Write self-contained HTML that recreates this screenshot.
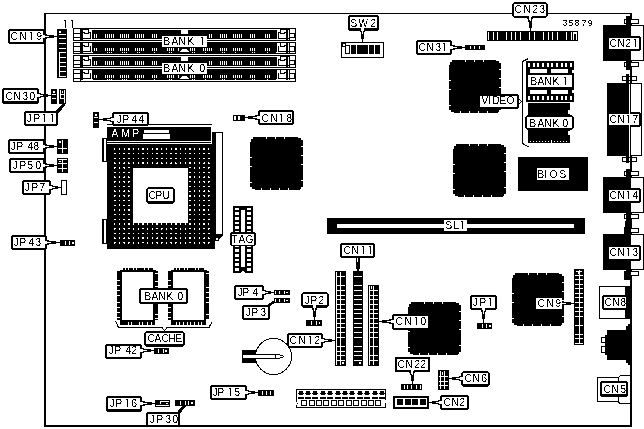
<!DOCTYPE html>
<html><head><meta charset="utf-8"><title>Motherboard layout 35879</title>
<style>
html,body{margin:0;padding:0;background:#fff;}
body{width:644px;height:429px;overflow:hidden;}
svg{display:block;font-family:"Liberation Sans",Arial,sans-serif;font-size:10px;}
svg rect,svg path,svg line,svg circle,svg polygon{shape-rendering:crispEdges;}
svg .aa{shape-rendering:geometricPrecision;}
</style></head>
<body>
<svg width="644" height="429" viewBox="0 0 644 429">
<defs><filter id="t" x="0" y="0" width="644" height="429" filterUnits="userSpaceOnUse"><feComponentTransfer><feFuncA type="discrete" tableValues="0 1"/></feComponentTransfer></filter></defs>
<rect x="0" y="0" width="644" height="429" fill="#fff"/>
<rect x="44" y="13" width="588" height="1" fill="#000"/>
<rect x="44" y="13" width="2" height="414" fill="#000"/>
<rect x="630" y="13" width="2" height="414" fill="#000"/>
<rect x="44" y="425" width="588" height="2" fill="#000"/>
<rect x="57" y="29" width="10" height="49" fill="#000"/>
<rect x="59" y="31" width="2" height="2" fill="#fff"/>
<rect x="59" y="34" width="7" height="1" fill="#fff"/>
<rect x="59" y="38" width="7" height="1" fill="#fff"/>
<rect x="59" y="43" width="7" height="1" fill="#fff"/>
<rect x="59" y="48" width="7" height="1" fill="#fff"/>
<rect x="59" y="52" width="7" height="1" fill="#fff"/>
<rect x="59" y="57" width="7" height="1" fill="#fff"/>
<rect x="59" y="62" width="7" height="1" fill="#fff"/>
<rect x="59" y="66" width="7" height="1" fill="#fff"/>
<rect x="59" y="71" width="7" height="1" fill="#fff"/>
<rect x="59" y="76" width="7" height="1" fill="#fff"/>
<rect x="59" y="52" width="1" height="25" fill="#fff"/>
<rect x="73" y="28" width="223" height="13" fill="#000"/>
<rect x="89" y="29" width="191" height="1" fill="#fff"/>
<rect x="83" y="39" width="203" height="1" fill="#fff"/>
<rect x="91" y="29" width="1" height="11" fill="#fff"/>
<rect x="277" y="29" width="1" height="11" fill="#fff"/>
<rect x="89" y="29" width="3" height="3" fill="#fff"/>
<rect x="277" y="29" width="3" height="3" fill="#fff"/>
<rect x="83" y="30" width="5" height="2" fill="#fff"/>
<rect x="85" y="32" width="3" height="1" fill="#fff"/>
<rect x="83" y="33" width="1" height="1" fill="#fff"/>
<rect x="89" y="33" width="1" height="1" fill="#fff"/>
<rect x="83" y="34" width="7" height="4" fill="#fff"/>
<rect x="281" y="30" width="5" height="2" fill="#fff"/>
<rect x="281" y="32" width="3" height="1" fill="#fff"/>
<rect x="285" y="33" width="1" height="1" fill="#fff"/>
<rect x="279" y="33" width="1" height="1" fill="#fff"/>
<rect x="279" y="34" width="7" height="4" fill="#fff"/>
<rect x="74" y="29" width="6" height="4" fill="#fff"/>
<rect x="74" y="34" width="6" height="3" fill="#fff"/>
<rect x="74" y="38" width="6" height="2" fill="#fff"/>
<rect x="288" y="30" width="1" height="8" fill="#fff"/>
<rect x="288" y="39" width="1" height="1" fill="#fff"/>
<rect x="290" y="29" width="5" height="4" fill="#fff"/>
<rect x="290" y="34" width="4" height="3" fill="#fff"/>
<rect x="290" y="38" width="5" height="2" fill="#fff"/>
<rect x="94" y="34" width="1" height="4" fill="#fff"/>
<rect x="96" y="34" width="1" height="4" fill="#fff"/>
<rect x="105" y="34" width="1" height="4" fill="#fff"/>
<rect x="107" y="34" width="1" height="4" fill="#fff"/>
<rect x="109" y="34" width="1" height="4" fill="#fff"/>
<rect x="111" y="34" width="1" height="4" fill="#fff"/>
<rect x="113" y="34" width="1" height="4" fill="#fff"/>
<rect x="120" y="34" width="1" height="4" fill="#fff"/>
<rect x="122" y="34" width="1" height="4" fill="#fff"/>
<rect x="124" y="34" width="1" height="4" fill="#fff"/>
<rect x="126" y="34" width="1" height="4" fill="#fff"/>
<rect x="128" y="34" width="1" height="4" fill="#fff"/>
<rect x="135" y="34" width="1" height="4" fill="#fff"/>
<rect x="137" y="34" width="1" height="4" fill="#fff"/>
<rect x="139" y="34" width="1" height="4" fill="#fff"/>
<rect x="141" y="34" width="1" height="4" fill="#fff"/>
<rect x="143" y="34" width="1" height="4" fill="#fff"/>
<rect x="152" y="34" width="1" height="4" fill="#fff"/>
<rect x="154" y="34" width="1" height="4" fill="#fff"/>
<rect x="156" y="34" width="1" height="4" fill="#fff"/>
<rect x="209" y="34" width="1" height="4" fill="#fff"/>
<rect x="211" y="34" width="1" height="4" fill="#fff"/>
<rect x="220" y="34" width="1" height="4" fill="#fff"/>
<rect x="222" y="34" width="1" height="4" fill="#fff"/>
<rect x="224" y="34" width="1" height="4" fill="#fff"/>
<rect x="226" y="34" width="1" height="4" fill="#fff"/>
<rect x="233" y="34" width="1" height="4" fill="#fff"/>
<rect x="235" y="34" width="1" height="4" fill="#fff"/>
<rect x="237" y="34" width="1" height="4" fill="#fff"/>
<rect x="239" y="34" width="1" height="4" fill="#fff"/>
<rect x="241" y="34" width="1" height="4" fill="#fff"/>
<rect x="250" y="34" width="1" height="4" fill="#fff"/>
<rect x="252" y="34" width="1" height="4" fill="#fff"/>
<rect x="254" y="34" width="1" height="4" fill="#fff"/>
<rect x="265" y="34" width="1" height="4" fill="#fff"/>
<rect x="267" y="34" width="1" height="4" fill="#fff"/>
<rect x="269" y="34" width="1" height="4" fill="#fff"/>
<rect x="181" y="29" width="7" height="5" fill="#fff"/>
<rect x="73" y="55" width="223" height="13" fill="#000"/>
<rect x="89" y="56" width="191" height="1" fill="#fff"/>
<rect x="83" y="66" width="203" height="1" fill="#fff"/>
<rect x="91" y="56" width="1" height="11" fill="#fff"/>
<rect x="277" y="56" width="1" height="11" fill="#fff"/>
<rect x="89" y="56" width="3" height="3" fill="#fff"/>
<rect x="277" y="56" width="3" height="3" fill="#fff"/>
<rect x="83" y="57" width="5" height="2" fill="#fff"/>
<rect x="85" y="59" width="3" height="1" fill="#fff"/>
<rect x="83" y="60" width="1" height="1" fill="#fff"/>
<rect x="89" y="60" width="1" height="1" fill="#fff"/>
<rect x="83" y="61" width="7" height="4" fill="#fff"/>
<rect x="281" y="57" width="5" height="2" fill="#fff"/>
<rect x="281" y="59" width="3" height="1" fill="#fff"/>
<rect x="285" y="60" width="1" height="1" fill="#fff"/>
<rect x="279" y="60" width="1" height="1" fill="#fff"/>
<rect x="279" y="61" width="7" height="4" fill="#fff"/>
<rect x="74" y="56" width="6" height="4" fill="#fff"/>
<rect x="74" y="61" width="6" height="3" fill="#fff"/>
<rect x="74" y="65" width="6" height="2" fill="#fff"/>
<rect x="288" y="57" width="1" height="8" fill="#fff"/>
<rect x="288" y="66" width="1" height="1" fill="#fff"/>
<rect x="290" y="56" width="5" height="4" fill="#fff"/>
<rect x="290" y="61" width="4" height="3" fill="#fff"/>
<rect x="290" y="65" width="5" height="2" fill="#fff"/>
<rect x="94" y="61" width="1" height="4" fill="#fff"/>
<rect x="96" y="61" width="1" height="4" fill="#fff"/>
<rect x="105" y="61" width="1" height="4" fill="#fff"/>
<rect x="107" y="61" width="1" height="4" fill="#fff"/>
<rect x="109" y="61" width="1" height="4" fill="#fff"/>
<rect x="111" y="61" width="1" height="4" fill="#fff"/>
<rect x="113" y="61" width="1" height="4" fill="#fff"/>
<rect x="120" y="61" width="1" height="4" fill="#fff"/>
<rect x="122" y="61" width="1" height="4" fill="#fff"/>
<rect x="124" y="61" width="1" height="4" fill="#fff"/>
<rect x="126" y="61" width="1" height="4" fill="#fff"/>
<rect x="128" y="61" width="1" height="4" fill="#fff"/>
<rect x="135" y="61" width="1" height="4" fill="#fff"/>
<rect x="137" y="61" width="1" height="4" fill="#fff"/>
<rect x="139" y="61" width="1" height="4" fill="#fff"/>
<rect x="141" y="61" width="1" height="4" fill="#fff"/>
<rect x="143" y="61" width="1" height="4" fill="#fff"/>
<rect x="152" y="61" width="1" height="4" fill="#fff"/>
<rect x="154" y="61" width="1" height="4" fill="#fff"/>
<rect x="156" y="61" width="1" height="4" fill="#fff"/>
<rect x="209" y="61" width="1" height="4" fill="#fff"/>
<rect x="211" y="61" width="1" height="4" fill="#fff"/>
<rect x="220" y="61" width="1" height="4" fill="#fff"/>
<rect x="222" y="61" width="1" height="4" fill="#fff"/>
<rect x="224" y="61" width="1" height="4" fill="#fff"/>
<rect x="226" y="61" width="1" height="4" fill="#fff"/>
<rect x="233" y="61" width="1" height="4" fill="#fff"/>
<rect x="235" y="61" width="1" height="4" fill="#fff"/>
<rect x="237" y="61" width="1" height="4" fill="#fff"/>
<rect x="239" y="61" width="1" height="4" fill="#fff"/>
<rect x="241" y="61" width="1" height="4" fill="#fff"/>
<rect x="250" y="61" width="1" height="4" fill="#fff"/>
<rect x="252" y="61" width="1" height="4" fill="#fff"/>
<rect x="254" y="61" width="1" height="4" fill="#fff"/>
<rect x="265" y="61" width="1" height="4" fill="#fff"/>
<rect x="267" y="61" width="1" height="4" fill="#fff"/>
<rect x="269" y="61" width="1" height="4" fill="#fff"/>
<rect x="181" y="56" width="7" height="5" fill="#fff"/>
<rect x="73" y="42" width="223" height="12" fill="#000"/>
<rect x="74" y="43" width="6" height="3" fill="#fff"/>
<rect x="74" y="47" width="6" height="4" fill="#fff"/>
<rect x="74" y="52" width="6" height="1" fill="#fff"/>
<rect x="89" y="43" width="3" height="3" fill="#fff"/>
<rect x="277" y="43" width="3" height="3" fill="#fff"/>
<rect x="91" y="43" width="1" height="9" fill="#fff"/>
<rect x="277" y="43" width="1" height="9" fill="#fff"/>
<rect x="83" y="43" width="5" height="2" fill="#fff"/>
<rect x="85" y="45" width="3" height="1" fill="#fff"/>
<rect x="83" y="46" width="1" height="1" fill="#fff"/>
<rect x="89" y="46" width="1" height="1" fill="#fff"/>
<rect x="83" y="47" width="7" height="4" fill="#fff"/>
<rect x="281" y="43" width="5" height="2" fill="#fff"/>
<rect x="281" y="45" width="3" height="1" fill="#fff"/>
<rect x="285" y="46" width="1" height="1" fill="#fff"/>
<rect x="279" y="46" width="1" height="1" fill="#fff"/>
<rect x="279" y="47" width="7" height="4" fill="#fff"/>
<rect x="83" y="52" width="10" height="1" fill="#fff"/>
<rect x="276" y="52" width="10" height="1" fill="#fff"/>
<rect x="288" y="43" width="1" height="8" fill="#fff"/>
<rect x="288" y="52" width="1" height="1" fill="#fff"/>
<rect x="290" y="43" width="5" height="3" fill="#fff"/>
<rect x="290" y="47" width="4" height="4" fill="#fff"/>
<rect x="290" y="52" width="5" height="1" fill="#fff"/>
<rect x="94" y="48" width="1" height="3" fill="#fff"/>
<rect x="96" y="48" width="1" height="3" fill="#fff"/>
<rect x="105" y="48" width="1" height="3" fill="#fff"/>
<rect x="107" y="48" width="1" height="3" fill="#fff"/>
<rect x="109" y="48" width="1" height="3" fill="#fff"/>
<rect x="111" y="48" width="1" height="3" fill="#fff"/>
<rect x="113" y="48" width="1" height="3" fill="#fff"/>
<rect x="120" y="48" width="1" height="3" fill="#fff"/>
<rect x="122" y="48" width="1" height="3" fill="#fff"/>
<rect x="124" y="48" width="1" height="3" fill="#fff"/>
<rect x="126" y="48" width="1" height="3" fill="#fff"/>
<rect x="128" y="48" width="1" height="3" fill="#fff"/>
<rect x="135" y="48" width="1" height="3" fill="#fff"/>
<rect x="137" y="48" width="1" height="3" fill="#fff"/>
<rect x="139" y="48" width="1" height="3" fill="#fff"/>
<rect x="141" y="48" width="1" height="3" fill="#fff"/>
<rect x="143" y="48" width="1" height="3" fill="#fff"/>
<rect x="152" y="48" width="1" height="3" fill="#fff"/>
<rect x="154" y="48" width="1" height="3" fill="#fff"/>
<rect x="156" y="48" width="1" height="3" fill="#fff"/>
<rect x="209" y="48" width="1" height="3" fill="#fff"/>
<rect x="211" y="48" width="1" height="3" fill="#fff"/>
<rect x="220" y="48" width="1" height="3" fill="#fff"/>
<rect x="222" y="48" width="1" height="3" fill="#fff"/>
<rect x="224" y="48" width="1" height="3" fill="#fff"/>
<rect x="226" y="48" width="1" height="3" fill="#fff"/>
<rect x="233" y="48" width="1" height="3" fill="#fff"/>
<rect x="235" y="48" width="1" height="3" fill="#fff"/>
<rect x="237" y="48" width="1" height="3" fill="#fff"/>
<rect x="239" y="48" width="1" height="3" fill="#fff"/>
<rect x="241" y="48" width="1" height="3" fill="#fff"/>
<rect x="250" y="48" width="1" height="3" fill="#fff"/>
<rect x="252" y="48" width="1" height="3" fill="#fff"/>
<rect x="254" y="48" width="1" height="3" fill="#fff"/>
<rect x="265" y="48" width="1" height="3" fill="#fff"/>
<rect x="267" y="48" width="1" height="3" fill="#fff"/>
<rect x="269" y="48" width="1" height="3" fill="#fff"/>
<rect x="167" y="48" width="1" height="3" fill="#fff"/>
<rect x="169" y="48" width="1" height="3" fill="#fff"/>
<rect x="171" y="48" width="1" height="3" fill="#fff"/>
<rect x="173" y="48" width="1" height="3" fill="#fff"/>
<rect x="178" y="48" width="1" height="3" fill="#fff"/>
<rect x="190" y="48" width="1" height="3" fill="#fff"/>
<rect x="192" y="48" width="1" height="3" fill="#fff"/>
<rect x="194" y="48" width="1" height="3" fill="#fff"/>
<rect x="203" y="48" width="1" height="3" fill="#fff"/>
<rect x="205" y="48" width="1" height="3" fill="#fff"/>
<rect x="207" y="48" width="1" height="3" fill="#fff"/>
<rect x="107" y="52" width="1" height="1" fill="#fff"/>
<rect x="109" y="52" width="1" height="1" fill="#fff"/>
<rect x="111" y="52" width="1" height="1" fill="#fff"/>
<rect x="122" y="52" width="1" height="1" fill="#fff"/>
<rect x="124" y="52" width="1" height="1" fill="#fff"/>
<rect x="126" y="52" width="1" height="1" fill="#fff"/>
<rect x="137" y="52" width="1" height="1" fill="#fff"/>
<rect x="139" y="52" width="1" height="1" fill="#fff"/>
<rect x="154" y="52" width="1" height="1" fill="#fff"/>
<rect x="169" y="52" width="1" height="1" fill="#fff"/>
<rect x="171" y="52" width="1" height="1" fill="#fff"/>
<rect x="192" y="52" width="1" height="1" fill="#fff"/>
<rect x="194" y="52" width="1" height="1" fill="#fff"/>
<rect x="205" y="52" width="1" height="1" fill="#fff"/>
<rect x="222" y="52" width="1" height="1" fill="#fff"/>
<rect x="224" y="52" width="1" height="1" fill="#fff"/>
<rect x="235" y="52" width="1" height="1" fill="#fff"/>
<rect x="252" y="52" width="1" height="1" fill="#fff"/>
<rect x="254" y="52" width="1" height="1" fill="#fff"/>
<rect x="267" y="52" width="1" height="1" fill="#fff"/>
<path d="M180 52H189L187 49H182Z" fill="#fff"/>
<rect x="73" y="69" width="223" height="13" fill="#000"/>
<rect x="74" y="70" width="6" height="3" fill="#fff"/>
<rect x="74" y="74" width="6" height="4" fill="#fff"/>
<rect x="74" y="79" width="6" height="2" fill="#fff"/>
<rect x="89" y="70" width="3" height="3" fill="#fff"/>
<rect x="277" y="70" width="3" height="3" fill="#fff"/>
<rect x="91" y="70" width="1" height="9" fill="#fff"/>
<rect x="277" y="70" width="1" height="9" fill="#fff"/>
<rect x="83" y="70" width="5" height="2" fill="#fff"/>
<rect x="85" y="72" width="3" height="1" fill="#fff"/>
<rect x="83" y="73" width="1" height="1" fill="#fff"/>
<rect x="89" y="73" width="1" height="1" fill="#fff"/>
<rect x="83" y="74" width="7" height="4" fill="#fff"/>
<rect x="281" y="70" width="5" height="2" fill="#fff"/>
<rect x="281" y="72" width="3" height="1" fill="#fff"/>
<rect x="285" y="73" width="1" height="1" fill="#fff"/>
<rect x="279" y="73" width="1" height="1" fill="#fff"/>
<rect x="279" y="74" width="7" height="4" fill="#fff"/>
<rect x="83" y="79" width="10" height="1" fill="#fff"/>
<rect x="276" y="79" width="10" height="1" fill="#fff"/>
<rect x="288" y="70" width="1" height="8" fill="#fff"/>
<rect x="288" y="79" width="1" height="1" fill="#fff"/>
<rect x="290" y="70" width="5" height="3" fill="#fff"/>
<rect x="290" y="74" width="4" height="4" fill="#fff"/>
<rect x="290" y="79" width="5" height="2" fill="#fff"/>
<rect x="81" y="80" width="214" height="1" fill="#fff"/>
<rect x="94" y="75" width="1" height="3" fill="#fff"/>
<rect x="96" y="75" width="1" height="3" fill="#fff"/>
<rect x="105" y="75" width="1" height="3" fill="#fff"/>
<rect x="107" y="75" width="1" height="3" fill="#fff"/>
<rect x="109" y="75" width="1" height="3" fill="#fff"/>
<rect x="111" y="75" width="1" height="3" fill="#fff"/>
<rect x="113" y="75" width="1" height="3" fill="#fff"/>
<rect x="120" y="75" width="1" height="3" fill="#fff"/>
<rect x="122" y="75" width="1" height="3" fill="#fff"/>
<rect x="124" y="75" width="1" height="3" fill="#fff"/>
<rect x="126" y="75" width="1" height="3" fill="#fff"/>
<rect x="128" y="75" width="1" height="3" fill="#fff"/>
<rect x="135" y="75" width="1" height="3" fill="#fff"/>
<rect x="137" y="75" width="1" height="3" fill="#fff"/>
<rect x="139" y="75" width="1" height="3" fill="#fff"/>
<rect x="141" y="75" width="1" height="3" fill="#fff"/>
<rect x="143" y="75" width="1" height="3" fill="#fff"/>
<rect x="152" y="75" width="1" height="3" fill="#fff"/>
<rect x="154" y="75" width="1" height="3" fill="#fff"/>
<rect x="156" y="75" width="1" height="3" fill="#fff"/>
<rect x="209" y="75" width="1" height="3" fill="#fff"/>
<rect x="211" y="75" width="1" height="3" fill="#fff"/>
<rect x="220" y="75" width="1" height="3" fill="#fff"/>
<rect x="222" y="75" width="1" height="3" fill="#fff"/>
<rect x="224" y="75" width="1" height="3" fill="#fff"/>
<rect x="226" y="75" width="1" height="3" fill="#fff"/>
<rect x="233" y="75" width="1" height="3" fill="#fff"/>
<rect x="235" y="75" width="1" height="3" fill="#fff"/>
<rect x="237" y="75" width="1" height="3" fill="#fff"/>
<rect x="239" y="75" width="1" height="3" fill="#fff"/>
<rect x="241" y="75" width="1" height="3" fill="#fff"/>
<rect x="250" y="75" width="1" height="3" fill="#fff"/>
<rect x="252" y="75" width="1" height="3" fill="#fff"/>
<rect x="254" y="75" width="1" height="3" fill="#fff"/>
<rect x="265" y="75" width="1" height="3" fill="#fff"/>
<rect x="267" y="75" width="1" height="3" fill="#fff"/>
<rect x="269" y="75" width="1" height="3" fill="#fff"/>
<rect x="167" y="75" width="1" height="3" fill="#fff"/>
<rect x="169" y="75" width="1" height="3" fill="#fff"/>
<rect x="171" y="75" width="1" height="3" fill="#fff"/>
<rect x="173" y="75" width="1" height="3" fill="#fff"/>
<rect x="178" y="75" width="1" height="3" fill="#fff"/>
<rect x="190" y="75" width="1" height="3" fill="#fff"/>
<rect x="192" y="75" width="1" height="3" fill="#fff"/>
<rect x="194" y="75" width="1" height="3" fill="#fff"/>
<rect x="203" y="75" width="1" height="3" fill="#fff"/>
<rect x="205" y="75" width="1" height="3" fill="#fff"/>
<rect x="207" y="75" width="1" height="3" fill="#fff"/>
<rect x="107" y="79" width="1" height="1" fill="#fff"/>
<rect x="109" y="79" width="1" height="1" fill="#fff"/>
<rect x="111" y="79" width="1" height="1" fill="#fff"/>
<rect x="122" y="79" width="1" height="1" fill="#fff"/>
<rect x="124" y="79" width="1" height="1" fill="#fff"/>
<rect x="126" y="79" width="1" height="1" fill="#fff"/>
<rect x="137" y="79" width="1" height="1" fill="#fff"/>
<rect x="139" y="79" width="1" height="1" fill="#fff"/>
<rect x="154" y="79" width="1" height="1" fill="#fff"/>
<rect x="169" y="79" width="1" height="1" fill="#fff"/>
<rect x="171" y="79" width="1" height="1" fill="#fff"/>
<rect x="192" y="79" width="1" height="1" fill="#fff"/>
<rect x="194" y="79" width="1" height="1" fill="#fff"/>
<rect x="205" y="79" width="1" height="1" fill="#fff"/>
<rect x="222" y="79" width="1" height="1" fill="#fff"/>
<rect x="224" y="79" width="1" height="1" fill="#fff"/>
<rect x="235" y="79" width="1" height="1" fill="#fff"/>
<rect x="252" y="79" width="1" height="1" fill="#fff"/>
<rect x="254" y="79" width="1" height="1" fill="#fff"/>
<rect x="267" y="79" width="1" height="1" fill="#fff"/>
<path d="M180 79H189L187 76H182Z" fill="#fff"/>
<rect x="162" y="36" width="45" height="11" fill="#fff"/>
<rect x="162" y="63" width="45" height="11" fill="#fff"/>
<path d="M253 137H298V138H301V140H303V187H301V189H300V190H255V189H252V187H250V142H251V139H253Z" fill="#000"/>
<rect x="266" y="137" width="1" height="2" fill="#fff"/>
<rect x="275" y="137" width="1" height="2" fill="#fff"/>
<rect x="284" y="137" width="1" height="2" fill="#fff"/>
<rect x="261" y="188" width="1" height="2" fill="#fff"/>
<rect x="270" y="188" width="1" height="2" fill="#fff"/>
<rect x="279" y="188" width="1" height="2" fill="#fff"/>
<rect x="288" y="188" width="1" height="2" fill="#fff"/>
<rect x="250" y="157" width="2" height="1" fill="#fff"/>
<rect x="250" y="166" width="2" height="1" fill="#fff"/>
<rect x="250" y="182" width="2" height="1" fill="#fff"/>
<rect x="301" y="146" width="2" height="1" fill="#fff"/>
<rect x="301" y="155" width="2" height="1" fill="#fff"/>
<rect x="301" y="164" width="2" height="1" fill="#fff"/>
<rect x="301" y="180" width="2" height="1" fill="#fff"/>
<path d="M452 60H496V61H499V63H501V110H499V112H498V113H454V112H451V110H449V65H450V62H452Z" fill="#000"/>
<rect x="465" y="60" width="1" height="2" fill="#fff"/>
<rect x="474" y="60" width="1" height="2" fill="#fff"/>
<rect x="483" y="60" width="1" height="2" fill="#fff"/>
<rect x="460" y="111" width="1" height="2" fill="#fff"/>
<rect x="469" y="111" width="1" height="2" fill="#fff"/>
<rect x="478" y="111" width="1" height="2" fill="#fff"/>
<rect x="487" y="111" width="1" height="2" fill="#fff"/>
<rect x="449" y="80" width="2" height="1" fill="#fff"/>
<rect x="449" y="89" width="2" height="1" fill="#fff"/>
<rect x="449" y="105" width="2" height="1" fill="#fff"/>
<rect x="499" y="69" width="2" height="1" fill="#fff"/>
<rect x="499" y="78" width="2" height="1" fill="#fff"/>
<rect x="499" y="87" width="2" height="1" fill="#fff"/>
<rect x="499" y="103" width="2" height="1" fill="#fff"/>
<path d="M456 144H501V145H504V147H506V194H504V196H503V197H458V196H455V194H453V149H454V146H456Z" fill="#000"/>
<rect x="469" y="144" width="1" height="2" fill="#fff"/>
<rect x="478" y="144" width="1" height="2" fill="#fff"/>
<rect x="487" y="144" width="1" height="2" fill="#fff"/>
<rect x="464" y="195" width="1" height="2" fill="#fff"/>
<rect x="473" y="195" width="1" height="2" fill="#fff"/>
<rect x="482" y="195" width="1" height="2" fill="#fff"/>
<rect x="491" y="195" width="1" height="2" fill="#fff"/>
<rect x="453" y="164" width="2" height="1" fill="#fff"/>
<rect x="453" y="173" width="2" height="1" fill="#fff"/>
<rect x="453" y="189" width="2" height="1" fill="#fff"/>
<rect x="504" y="153" width="2" height="1" fill="#fff"/>
<rect x="504" y="162" width="2" height="1" fill="#fff"/>
<rect x="504" y="171" width="2" height="1" fill="#fff"/>
<rect x="504" y="187" width="2" height="1" fill="#fff"/>
<path d="M411 302H456V303H459V305H461V352H459V354H458V355H413V354H410V352H408V307H409V304H411Z" fill="#000"/>
<rect x="424" y="302" width="1" height="2" fill="#fff"/>
<rect x="433" y="302" width="1" height="2" fill="#fff"/>
<rect x="442" y="302" width="1" height="2" fill="#fff"/>
<rect x="419" y="353" width="1" height="2" fill="#fff"/>
<rect x="428" y="353" width="1" height="2" fill="#fff"/>
<rect x="437" y="353" width="1" height="2" fill="#fff"/>
<rect x="446" y="353" width="1" height="2" fill="#fff"/>
<rect x="408" y="322" width="2" height="1" fill="#fff"/>
<rect x="408" y="331" width="2" height="1" fill="#fff"/>
<rect x="408" y="347" width="2" height="1" fill="#fff"/>
<rect x="459" y="311" width="2" height="1" fill="#fff"/>
<rect x="459" y="320" width="2" height="1" fill="#fff"/>
<rect x="459" y="329" width="2" height="1" fill="#fff"/>
<rect x="459" y="345" width="2" height="1" fill="#fff"/>
<path d="M515 273H559V274H562V276H564V323H562V325H561V326H517V325H514V323H512V278H513V275H515Z" fill="#000"/>
<rect x="528" y="273" width="1" height="2" fill="#fff"/>
<rect x="537" y="273" width="1" height="2" fill="#fff"/>
<rect x="546" y="273" width="1" height="2" fill="#fff"/>
<rect x="523" y="324" width="1" height="2" fill="#fff"/>
<rect x="532" y="324" width="1" height="2" fill="#fff"/>
<rect x="541" y="324" width="1" height="2" fill="#fff"/>
<rect x="550" y="324" width="1" height="2" fill="#fff"/>
<rect x="512" y="293" width="2" height="1" fill="#fff"/>
<rect x="512" y="302" width="2" height="1" fill="#fff"/>
<rect x="512" y="318" width="2" height="1" fill="#fff"/>
<rect x="562" y="282" width="2" height="1" fill="#fff"/>
<rect x="562" y="291" width="2" height="1" fill="#fff"/>
<rect x="562" y="300" width="2" height="1" fill="#fff"/>
<rect x="562" y="316" width="2" height="1" fill="#fff"/>
<rect x="518" y="157" width="70" height="34" fill="#000"/>
<rect x="537" y="168" width="32" height="12" fill="#fff"/>
<rect x="327" y="218" width="258" height="16" fill="#000"/>
<rect x="337" y="224" width="237" height="4" fill="#fff"/>
<rect x="444" y="220" width="23" height="11" fill="#fff"/>
<rect x="107" y="124" width="105" height="1" fill="#000"/>
<rect x="107" y="127" width="104" height="16" fill="#000"/>
<rect x="107" y="144" width="108" height="105" fill="#000"/>
<rect x="212" y="132" width="4" height="104" fill="#000"/>
<rect x="215" y="132" width="8" height="104" fill="#000"/>
<rect x="216" y="133" width="6" height="101" fill="#fff"/>
<path d="M215 236H222V237H221V238H220V239H219V241H215Z" fill="#000"/>
<rect x="216" y="238" width="2" height="2" fill="#fff"/>
<rect x="144" y="130" width="25" height="3" fill="#fff"/>
<rect x="143" y="134" width="27" height="5" fill="#fff"/>
<rect x="107" y="141" width="104" height="1" fill="#fff"/>
<rect x="102" y="138" width="5" height="24" fill="#000"/>
<rect x="104" y="139" width="2" height="22" fill="#fff"/>
<rect x="102" y="219" width="5" height="25" fill="#000"/>
<rect x="104" y="220" width="2" height="23" fill="#fff"/>
<path d="M114 148h1v1h-1zM114 149h1v1h-1zM114 153h1v1h-1zM115 153h1v1h-1zM114 158h1v1h-1zM115 158h1v1h-1zM114 162h1v1h-1zM114 163h1v1h-1zM115 163h1v1h-1zM114 167h1v1h-1zM114 168h1v1h-1zM115 167h1v1h-1zM114 172h1v1h-1zM115 172h1v1h-1zM114 176h1v1h-1zM114 177h1v1h-1zM115 177h1v1h-1zM114 181h1v1h-1zM114 182h1v1h-1zM115 181h1v1h-1zM114 186h1v1h-1zM115 186h1v1h-1zM114 190h1v1h-1zM114 191h1v1h-1zM115 191h1v1h-1zM114 195h1v1h-1zM114 196h1v1h-1zM115 195h1v1h-1zM114 200h1v1h-1zM115 200h1v1h-1zM114 205h1v1h-1zM115 205h1v1h-1zM114 209h1v1h-1zM114 210h1v1h-1zM114 214h1v1h-1zM115 214h1v1h-1zM114 219h1v1h-1zM115 219h1v1h-1zM114 223h1v1h-1zM114 224h1v1h-1zM114 228h1v1h-1zM114 229h1v1h-1zM115 228h1v1h-1zM114 233h1v1h-1zM115 233h1v1h-1zM114 237h1v1h-1zM114 238h1v1h-1zM115 238h1v1h-1zM114 242h1v1h-1zM114 243h1v1h-1zM115 242h1v1h-1zM119 148h1v1h-1zM119 149h1v1h-1zM119 153h1v1h-1zM119 158h1v1h-1zM119 162h1v1h-1zM119 163h1v1h-1zM119 167h1v1h-1zM119 168h1v1h-1zM119 172h1v1h-1zM119 176h1v1h-1zM119 177h1v1h-1zM119 181h1v1h-1zM119 182h1v1h-1zM119 186h1v1h-1zM119 190h1v1h-1zM119 191h1v1h-1zM119 195h1v1h-1zM119 196h1v1h-1zM119 200h1v1h-1zM119 204h1v1h-1zM119 205h1v1h-1zM119 209h1v1h-1zM119 210h1v1h-1zM119 214h1v1h-1zM119 219h1v1h-1zM119 223h1v1h-1zM119 224h1v1h-1zM119 228h1v1h-1zM119 229h1v1h-1zM119 233h1v1h-1zM119 237h1v1h-1zM119 238h1v1h-1zM119 242h1v1h-1zM119 243h1v1h-1zM124 148h1v1h-1zM124 149h1v1h-1zM123 153h1v1h-1zM124 153h1v1h-1zM123 158h1v1h-1zM124 158h1v1h-1zM123 163h1v1h-1zM124 162h1v1h-1zM124 163h1v1h-1zM123 167h1v1h-1zM124 167h1v1h-1zM124 168h1v1h-1zM123 172h1v1h-1zM124 172h1v1h-1zM123 177h1v1h-1zM124 176h1v1h-1zM124 177h1v1h-1zM123 181h1v1h-1zM124 181h1v1h-1zM124 182h1v1h-1zM123 186h1v1h-1zM124 186h1v1h-1zM123 191h1v1h-1zM124 190h1v1h-1zM124 191h1v1h-1zM123 195h1v1h-1zM124 195h1v1h-1zM124 196h1v1h-1zM123 200h1v1h-1zM124 200h1v1h-1zM123 205h1v1h-1zM124 205h1v1h-1zM124 209h1v1h-1zM124 210h1v1h-1zM123 214h1v1h-1zM124 214h1v1h-1zM123 219h1v1h-1zM124 219h1v1h-1zM124 223h1v1h-1zM124 224h1v1h-1zM123 228h1v1h-1zM124 228h1v1h-1zM124 229h1v1h-1zM123 233h1v1h-1zM124 233h1v1h-1zM123 238h1v1h-1zM124 237h1v1h-1zM124 238h1v1h-1zM123 242h1v1h-1zM124 242h1v1h-1zM124 243h1v1h-1zM128 148h1v1h-1zM128 149h1v1h-1zM129 148h1v1h-1zM129 149h1v1h-1zM128 153h1v1h-1zM129 153h1v1h-1zM128 158h1v1h-1zM129 158h1v1h-1zM128 162h1v1h-1zM128 163h1v1h-1zM129 163h1v1h-1zM128 167h1v1h-1zM129 167h1v1h-1zM128 172h1v1h-1zM129 172h1v1h-1zM128 176h1v1h-1zM128 177h1v1h-1zM129 177h1v1h-1zM128 181h1v1h-1zM128 182h1v1h-1zM129 181h1v1h-1zM128 186h1v1h-1zM129 186h1v1h-1zM128 190h1v1h-1zM128 191h1v1h-1zM129 191h1v1h-1zM128 195h1v1h-1zM128 196h1v1h-1zM129 195h1v1h-1zM128 200h1v1h-1zM129 200h1v1h-1zM128 205h1v1h-1zM129 205h1v1h-1zM128 209h1v1h-1zM128 210h1v1h-1zM129 209h1v1h-1zM129 210h1v1h-1zM128 214h1v1h-1zM129 214h1v1h-1zM128 219h1v1h-1zM129 219h1v1h-1zM128 223h1v1h-1zM128 224h1v1h-1zM129 223h1v1h-1zM129 224h1v1h-1zM128 228h1v1h-1zM129 228h1v1h-1zM128 233h1v1h-1zM129 233h1v1h-1zM128 237h1v1h-1zM128 238h1v1h-1zM129 238h1v1h-1zM128 242h1v1h-1zM128 243h1v1h-1zM129 242h1v1h-1zM133 148h1v1h-1zM133 149h1v1h-1zM133 153h1v1h-1zM133 158h1v1h-1zM133 162h1v1h-1zM133 163h1v1h-1zM133 223h1v1h-1zM133 224h1v1h-1zM133 228h1v1h-1zM133 229h1v1h-1zM133 233h1v1h-1zM133 237h1v1h-1zM133 238h1v1h-1zM133 242h1v1h-1zM133 243h1v1h-1zM138 148h1v1h-1zM138 149h1v1h-1zM138 153h1v1h-1zM138 158h1v1h-1zM138 162h1v1h-1zM138 163h1v1h-1zM138 223h1v1h-1zM138 224h1v1h-1zM138 228h1v1h-1zM138 229h1v1h-1zM138 233h1v1h-1zM138 237h1v1h-1zM138 238h1v1h-1zM138 242h1v1h-1zM138 243h1v1h-1zM142 148h1v1h-1zM142 149h1v1h-1zM143 148h1v1h-1zM143 149h1v1h-1zM142 153h1v1h-1zM143 153h1v1h-1zM142 158h1v1h-1zM143 158h1v1h-1zM142 162h1v1h-1zM142 163h1v1h-1zM143 162h1v1h-1zM143 163h1v1h-1zM142 223h1v1h-1zM142 224h1v1h-1zM143 223h1v1h-1zM143 224h1v1h-1zM142 228h1v1h-1zM143 228h1v1h-1zM142 233h1v1h-1zM143 233h1v1h-1zM142 237h1v1h-1zM142 238h1v1h-1zM143 237h1v1h-1zM143 238h1v1h-1zM142 242h1v1h-1zM143 242h1v1h-1zM147 148h1v1h-1zM147 149h1v1h-1zM147 153h1v1h-1zM147 158h1v1h-1zM147 162h1v1h-1zM147 163h1v1h-1zM147 223h1v1h-1zM147 224h1v1h-1zM147 228h1v1h-1zM147 229h1v1h-1zM147 233h1v1h-1zM147 237h1v1h-1zM147 238h1v1h-1zM147 242h1v1h-1zM147 243h1v1h-1zM152 148h1v1h-1zM152 149h1v1h-1zM152 153h1v1h-1zM152 158h1v1h-1zM152 162h1v1h-1zM152 163h1v1h-1zM152 223h1v1h-1zM152 224h1v1h-1zM152 228h1v1h-1zM152 229h1v1h-1zM152 233h1v1h-1zM152 237h1v1h-1zM152 238h1v1h-1zM152 242h1v1h-1zM152 243h1v1h-1zM156 148h1v1h-1zM156 149h1v1h-1zM157 148h1v1h-1zM157 149h1v1h-1zM156 153h1v1h-1zM157 153h1v1h-1zM156 158h1v1h-1zM157 158h1v1h-1zM156 163h1v1h-1zM157 162h1v1h-1zM157 163h1v1h-1zM156 223h1v1h-1zM156 224h1v1h-1zM157 223h1v1h-1zM157 224h1v1h-1zM156 228h1v1h-1zM157 228h1v1h-1zM156 233h1v1h-1zM157 233h1v1h-1zM156 238h1v1h-1zM157 237h1v1h-1zM157 238h1v1h-1zM156 242h1v1h-1zM157 242h1v1h-1zM157 243h1v1h-1zM161 148h1v1h-1zM161 149h1v1h-1zM161 153h1v1h-1zM162 153h1v1h-1zM161 158h1v1h-1zM162 158h1v1h-1zM161 162h1v1h-1zM161 163h1v1h-1zM162 163h1v1h-1zM161 223h1v1h-1zM161 224h1v1h-1zM161 228h1v1h-1zM161 229h1v1h-1zM162 228h1v1h-1zM161 233h1v1h-1zM162 233h1v1h-1zM161 237h1v1h-1zM161 238h1v1h-1zM162 238h1v1h-1zM161 242h1v1h-1zM161 243h1v1h-1zM162 242h1v1h-1zM166 148h1v1h-1zM166 149h1v1h-1zM166 153h1v1h-1zM166 158h1v1h-1zM166 162h1v1h-1zM166 163h1v1h-1zM166 223h1v1h-1zM166 224h1v1h-1zM166 228h1v1h-1zM166 229h1v1h-1zM166 233h1v1h-1zM166 237h1v1h-1zM166 238h1v1h-1zM166 242h1v1h-1zM166 243h1v1h-1zM171 148h1v1h-1zM171 149h1v1h-1zM170 153h1v1h-1zM171 153h1v1h-1zM170 158h1v1h-1zM171 158h1v1h-1zM170 163h1v1h-1zM171 162h1v1h-1zM171 163h1v1h-1zM171 223h1v1h-1zM171 224h1v1h-1zM170 228h1v1h-1zM171 228h1v1h-1zM171 229h1v1h-1zM170 233h1v1h-1zM171 233h1v1h-1zM170 238h1v1h-1zM171 237h1v1h-1zM171 238h1v1h-1zM170 242h1v1h-1zM171 242h1v1h-1zM171 243h1v1h-1zM175 148h1v1h-1zM175 149h1v1h-1zM176 148h1v1h-1zM176 149h1v1h-1zM175 153h1v1h-1zM176 153h1v1h-1zM175 158h1v1h-1zM176 158h1v1h-1zM175 162h1v1h-1zM175 163h1v1h-1zM176 163h1v1h-1zM175 223h1v1h-1zM175 224h1v1h-1zM176 223h1v1h-1zM176 224h1v1h-1zM175 228h1v1h-1zM176 228h1v1h-1zM175 233h1v1h-1zM176 233h1v1h-1zM175 237h1v1h-1zM175 238h1v1h-1zM176 238h1v1h-1zM175 242h1v1h-1zM175 243h1v1h-1zM176 242h1v1h-1zM180 148h1v1h-1zM180 149h1v1h-1zM180 153h1v1h-1zM180 158h1v1h-1zM180 162h1v1h-1zM180 163h1v1h-1zM180 223h1v1h-1zM180 224h1v1h-1zM180 228h1v1h-1zM180 229h1v1h-1zM180 233h1v1h-1zM180 237h1v1h-1zM180 238h1v1h-1zM180 242h1v1h-1zM180 243h1v1h-1zM185 148h1v1h-1zM185 149h1v1h-1zM185 153h1v1h-1zM185 158h1v1h-1zM185 162h1v1h-1zM185 163h1v1h-1zM185 223h1v1h-1zM185 224h1v1h-1zM185 228h1v1h-1zM185 229h1v1h-1zM185 233h1v1h-1zM185 237h1v1h-1zM185 238h1v1h-1zM185 242h1v1h-1zM185 243h1v1h-1zM189 148h1v1h-1zM189 149h1v1h-1zM190 148h1v1h-1zM190 149h1v1h-1zM189 153h1v1h-1zM190 153h1v1h-1zM189 158h1v1h-1zM190 158h1v1h-1zM189 162h1v1h-1zM189 163h1v1h-1zM190 162h1v1h-1zM190 163h1v1h-1zM189 167h1v1h-1zM190 167h1v1h-1zM189 172h1v1h-1zM190 172h1v1h-1zM189 176h1v1h-1zM189 177h1v1h-1zM190 176h1v1h-1zM190 177h1v1h-1zM189 181h1v1h-1zM190 181h1v1h-1zM189 186h1v1h-1zM190 186h1v1h-1zM189 191h1v1h-1zM190 191h1v1h-1zM189 195h1v1h-1zM189 196h1v1h-1zM190 195h1v1h-1zM190 196h1v1h-1zM189 200h1v1h-1zM190 200h1v1h-1zM189 205h1v1h-1zM190 205h1v1h-1zM189 209h1v1h-1zM189 210h1v1h-1zM190 209h1v1h-1zM190 210h1v1h-1zM189 214h1v1h-1zM190 214h1v1h-1zM189 219h1v1h-1zM190 219h1v1h-1zM189 223h1v1h-1zM189 224h1v1h-1zM190 223h1v1h-1zM190 224h1v1h-1zM189 228h1v1h-1zM190 228h1v1h-1zM189 233h1v1h-1zM190 233h1v1h-1zM189 237h1v1h-1zM189 238h1v1h-1zM190 237h1v1h-1zM190 238h1v1h-1zM189 242h1v1h-1zM190 242h1v1h-1zM194 148h1v1h-1zM194 149h1v1h-1zM194 153h1v1h-1zM194 158h1v1h-1zM194 162h1v1h-1zM194 163h1v1h-1zM194 167h1v1h-1zM194 168h1v1h-1zM194 172h1v1h-1zM194 176h1v1h-1zM194 177h1v1h-1zM194 181h1v1h-1zM194 182h1v1h-1zM194 186h1v1h-1zM194 190h1v1h-1zM194 191h1v1h-1zM194 195h1v1h-1zM194 196h1v1h-1zM194 200h1v1h-1zM194 204h1v1h-1zM194 205h1v1h-1zM194 209h1v1h-1zM194 210h1v1h-1zM194 214h1v1h-1zM194 219h1v1h-1zM194 223h1v1h-1zM194 224h1v1h-1zM194 228h1v1h-1zM194 229h1v1h-1zM194 233h1v1h-1zM194 237h1v1h-1zM194 238h1v1h-1zM194 242h1v1h-1zM194 243h1v1h-1zM199 148h1v1h-1zM199 149h1v1h-1zM199 153h1v1h-1zM199 158h1v1h-1zM199 162h1v1h-1zM199 163h1v1h-1zM199 167h1v1h-1zM199 168h1v1h-1zM199 172h1v1h-1zM199 176h1v1h-1zM199 177h1v1h-1zM199 181h1v1h-1zM199 182h1v1h-1zM199 186h1v1h-1zM199 190h1v1h-1zM199 191h1v1h-1zM199 195h1v1h-1zM199 196h1v1h-1zM199 200h1v1h-1zM199 204h1v1h-1zM199 205h1v1h-1zM199 209h1v1h-1zM199 210h1v1h-1zM199 214h1v1h-1zM199 219h1v1h-1zM199 223h1v1h-1zM199 224h1v1h-1zM199 228h1v1h-1zM199 229h1v1h-1zM199 233h1v1h-1zM199 237h1v1h-1zM199 238h1v1h-1zM199 242h1v1h-1zM199 243h1v1h-1zM203 148h1v1h-1zM203 149h1v1h-1zM204 148h1v1h-1zM204 149h1v1h-1zM203 153h1v1h-1zM204 153h1v1h-1zM203 158h1v1h-1zM204 158h1v1h-1zM203 163h1v1h-1zM204 162h1v1h-1zM204 163h1v1h-1zM203 167h1v1h-1zM204 167h1v1h-1zM203 172h1v1h-1zM204 172h1v1h-1zM203 177h1v1h-1zM204 176h1v1h-1zM204 177h1v1h-1zM203 181h1v1h-1zM204 181h1v1h-1zM204 182h1v1h-1zM203 186h1v1h-1zM204 186h1v1h-1zM203 191h1v1h-1zM204 190h1v1h-1zM204 191h1v1h-1zM203 195h1v1h-1zM204 195h1v1h-1zM204 196h1v1h-1zM203 200h1v1h-1zM204 200h1v1h-1zM203 205h1v1h-1zM204 205h1v1h-1zM203 209h1v1h-1zM203 210h1v1h-1zM204 209h1v1h-1zM204 210h1v1h-1zM203 214h1v1h-1zM204 214h1v1h-1zM203 219h1v1h-1zM204 219h1v1h-1zM203 223h1v1h-1zM203 224h1v1h-1zM204 223h1v1h-1zM204 224h1v1h-1zM203 228h1v1h-1zM204 228h1v1h-1zM203 233h1v1h-1zM204 233h1v1h-1zM203 238h1v1h-1zM204 237h1v1h-1zM204 238h1v1h-1zM203 242h1v1h-1zM204 242h1v1h-1zM204 243h1v1h-1zM208 148h1v1h-1zM208 149h1v1h-1zM208 153h1v1h-1zM209 153h1v1h-1zM208 158h1v1h-1zM209 158h1v1h-1zM208 162h1v1h-1zM208 163h1v1h-1zM209 163h1v1h-1zM208 167h1v1h-1zM208 168h1v1h-1zM209 167h1v1h-1zM208 172h1v1h-1zM209 172h1v1h-1zM208 176h1v1h-1zM208 177h1v1h-1zM209 177h1v1h-1zM208 181h1v1h-1zM208 182h1v1h-1zM209 181h1v1h-1zM208 186h1v1h-1zM209 186h1v1h-1zM208 190h1v1h-1zM208 191h1v1h-1zM209 191h1v1h-1zM208 195h1v1h-1zM208 196h1v1h-1zM209 195h1v1h-1zM208 200h1v1h-1zM209 200h1v1h-1zM208 205h1v1h-1zM209 205h1v1h-1zM208 209h1v1h-1zM208 210h1v1h-1zM208 214h1v1h-1zM209 214h1v1h-1zM208 219h1v1h-1zM209 219h1v1h-1zM208 223h1v1h-1zM208 224h1v1h-1zM208 228h1v1h-1zM208 229h1v1h-1zM209 228h1v1h-1zM208 233h1v1h-1zM209 233h1v1h-1zM208 237h1v1h-1zM208 238h1v1h-1zM209 238h1v1h-1zM208 242h1v1h-1zM208 243h1v1h-1zM209 242h1v1h-1z" fill="#fff"/>
<rect x="133" y="168" width="55" height="55" fill="#fff"/>
<rect x="146" y="187" width="29" height="17" rx="4" fill="#000"/>
<rect x="148" y="189" width="25" height="12" rx="1" fill="#fff"/>
<path d="M123 268H153V270H156V271H158V320H155V325H120V320H117V271H120V270H123Z" fill="#000"/>
<rect x="122" y="272" width="31" height="48" fill="#fff"/>
<rect x="117" y="280" width="3" height="1" fill="#fff"/>
<rect x="117" y="285" width="3" height="1" fill="#fff"/>
<rect x="117" y="290" width="3" height="1" fill="#fff"/>
<rect x="117" y="295" width="3" height="1" fill="#fff"/>
<rect x="117" y="302" width="3" height="1" fill="#fff"/>
<rect x="117" y="307" width="3" height="1" fill="#fff"/>
<rect x="117" y="312" width="3" height="1" fill="#fff"/>
<rect x="117" y="317" width="3" height="1" fill="#fff"/>
<rect x="155" y="273" width="3" height="1" fill="#fff"/>
<rect x="155" y="281" width="3" height="1" fill="#fff"/>
<rect x="155" y="286" width="3" height="1" fill="#fff"/>
<rect x="155" y="291" width="3" height="1" fill="#fff"/>
<rect x="155" y="314" width="3" height="1" fill="#fff"/>
<rect x="155" y="318" width="3" height="1" fill="#fff"/>
<rect x="125" y="268" width="1" height="2" fill="#fff"/>
<rect x="128" y="268" width="1" height="2" fill="#fff"/>
<rect x="133" y="268" width="1" height="2" fill="#fff"/>
<rect x="136" y="268" width="1" height="2" fill="#fff"/>
<rect x="144" y="268" width="1" height="2" fill="#fff"/>
<rect x="148" y="268" width="1" height="2" fill="#fff"/>
<rect x="128" y="322" width="1" height="3" fill="#fff"/>
<rect x="131" y="322" width="1" height="3" fill="#fff"/>
<rect x="139" y="322" width="1" height="3" fill="#fff"/>
<rect x="142" y="322" width="1" height="3" fill="#fff"/>
<rect x="147" y="322" width="1" height="3" fill="#fff"/>
<rect x="151" y="322" width="1" height="3" fill="#fff"/>
<path d="M174 268H204V270H207V271H209V320H206V325H171V320H168V271H171V270H174Z" fill="#000"/>
<rect x="173" y="272" width="31" height="48" fill="#fff"/>
<rect x="168" y="280" width="3" height="1" fill="#fff"/>
<rect x="168" y="285" width="3" height="1" fill="#fff"/>
<rect x="168" y="302" width="3" height="1" fill="#fff"/>
<rect x="168" y="307" width="3" height="1" fill="#fff"/>
<rect x="168" y="312" width="3" height="1" fill="#fff"/>
<rect x="168" y="317" width="3" height="1" fill="#fff"/>
<rect x="206" y="273" width="3" height="1" fill="#fff"/>
<rect x="206" y="287" width="3" height="1" fill="#fff"/>
<rect x="206" y="292" width="3" height="1" fill="#fff"/>
<rect x="206" y="297" width="3" height="1" fill="#fff"/>
<rect x="206" y="302" width="3" height="1" fill="#fff"/>
<rect x="206" y="314" width="3" height="1" fill="#fff"/>
<rect x="206" y="319" width="3" height="1" fill="#fff"/>
<rect x="176" y="268" width="1" height="2" fill="#fff"/>
<rect x="179" y="268" width="1" height="2" fill="#fff"/>
<rect x="184" y="268" width="1" height="2" fill="#fff"/>
<rect x="187" y="268" width="1" height="2" fill="#fff"/>
<rect x="195" y="268" width="1" height="2" fill="#fff"/>
<rect x="198" y="268" width="1" height="2" fill="#fff"/>
<rect x="176" y="322" width="1" height="3" fill="#fff"/>
<rect x="179" y="322" width="1" height="3" fill="#fff"/>
<rect x="183" y="322" width="1" height="3" fill="#fff"/>
<rect x="187" y="322" width="1" height="3" fill="#fff"/>
<rect x="190" y="322" width="1" height="3" fill="#fff"/>
<rect x="194" y="322" width="1" height="3" fill="#fff"/>
<rect x="198" y="322" width="1" height="3" fill="#fff"/>
<rect x="201" y="322" width="1" height="3" fill="#fff"/>
<path d="M115.5 321L118.5 327.5H162L164.5 331L167 327.5H209L212 322" fill="none" stroke="#000" stroke-width="1"/>
<rect x="139" y="288" width="49" height="16" rx="3" fill="#000"/>
<rect x="141" y="290" width="45" height="12" rx="1" fill="#fff"/>
<rect x="144" y="331" width="41" height="16" rx="4" fill="#000"/>
<rect x="146" y="333" width="37" height="11" rx="1" fill="#fff"/>
<rect x="233" y="206" width="20" height="67" fill="#000"/>
<rect x="241" y="210" width="4" height="57" fill="#fff"/>
<path d="M241 273L243 270L245 273Z" fill="#fff"/>
<rect x="235" y="208" width="4" height="2" fill="#fff"/>
<rect x="247" y="208" width="4" height="2" fill="#fff"/>
<rect x="235" y="212" width="4" height="3" fill="#fff"/>
<rect x="247" y="212" width="4" height="3" fill="#fff"/>
<rect x="235" y="217" width="4" height="3" fill="#fff"/>
<rect x="247" y="217" width="4" height="3" fill="#fff"/>
<rect x="235" y="222" width="4" height="2" fill="#fff"/>
<rect x="247" y="222" width="4" height="2" fill="#fff"/>
<rect x="235" y="226" width="4" height="3" fill="#fff"/>
<rect x="247" y="226" width="4" height="3" fill="#fff"/>
<rect x="235" y="231" width="4" height="2" fill="#fff"/>
<rect x="247" y="231" width="4" height="2" fill="#fff"/>
<rect x="235" y="236" width="4" height="2" fill="#fff"/>
<rect x="247" y="236" width="4" height="2" fill="#fff"/>
<rect x="235" y="240" width="4" height="3" fill="#fff"/>
<rect x="247" y="240" width="4" height="3" fill="#fff"/>
<rect x="235" y="245" width="4" height="2" fill="#fff"/>
<rect x="247" y="245" width="4" height="2" fill="#fff"/>
<rect x="235" y="249" width="4" height="3" fill="#fff"/>
<rect x="247" y="249" width="4" height="3" fill="#fff"/>
<rect x="235" y="254" width="4" height="3" fill="#fff"/>
<rect x="247" y="254" width="4" height="3" fill="#fff"/>
<rect x="235" y="259" width="4" height="2" fill="#fff"/>
<rect x="247" y="259" width="4" height="2" fill="#fff"/>
<rect x="235" y="263" width="4" height="3" fill="#fff"/>
<rect x="247" y="263" width="4" height="3" fill="#fff"/>
<rect x="235" y="268" width="4" height="3" fill="#fff"/>
<rect x="247" y="268" width="4" height="3" fill="#fff"/>
<rect x="230" y="232" width="26" height="14" rx="3" fill="#000"/>
<rect x="232" y="234" width="22" height="11" rx="1" fill="#fff"/>
<polygon points="44,39.5 47.9,38 53.6,38 53.6,37 57,37 57,36 53.6,36 53.6,35 47.9,35 44,33.5" fill="#000"/>
<rect x="8" y="29" width="37" height="15" rx="3" fill="#000"/>
<rect x="10" y="31" width="33" height="11" rx="1" fill="#fff"/>
<polygon points="41,38 43.5,38 48.9,36.5 48.9,36.5 43.5,35 41,35" fill="#fff"/>
<rect x="51" y="89" width="6" height="15" fill="#000"/>
<rect x="53" y="91" width="2" height="2" fill="#fff"/>
<rect x="52" y="94" width="4" height="1" fill="#fff"/>
<rect x="52" y="98" width="4" height="1" fill="#fff"/>
<rect x="59" y="89" width="7" height="15" fill="#000"/>
<rect x="60" y="90" width="1" height="9" fill="#fff"/>
<rect x="64" y="90" width="1" height="13" fill="#fff"/>
<rect x="61" y="94" width="3" height="1" fill="#fff"/>
<rect x="61" y="98" width="3" height="1" fill="#fff"/>
<rect x="62" y="91" width="1" height="2" fill="#fff"/>
<polygon points="38.5,98.5 42.2,97 47.8,97 47.8,96 51,96 51,95 47.8,95 47.8,94 42.2,94 38.5,92.5" fill="#000"/>
<rect x="2" y="88" width="37" height="16" rx="3" fill="#000"/>
<rect x="4" y="90" width="33" height="11" rx="1" fill="#fff"/>
<polygon points="35.5,97 38,97 43.2,95.5 43.2,95.5 38,94 35.5,94" fill="#fff"/>
<line x1="64.5" y1="104" x2="57" y2="112" stroke="#000" stroke-width="3.2"/>
<rect x="24" y="111" width="34" height="15" rx="3" fill="#000"/>
<rect x="26" y="113" width="30" height="11" rx="1" fill="#fff"/>
<rect x="93" y="112" width="6" height="16" fill="#000"/>
<rect x="95" y="114" width="2" height="2" fill="#fff"/>
<rect x="94" y="117" width="4" height="1" fill="#fff"/>
<rect x="94" y="122" width="4" height="1" fill="#fff"/>
<polygon points="112.5,116.5 108.5,118 102.5,118 102.5,119 99,119 99,120 102.5,120 102.5,121 108.5,121 112.5,122.5" fill="#000"/>
<rect x="112" y="112" width="37" height="14" rx="3" fill="#000"/>
<rect x="114" y="114" width="33" height="10" rx="1" fill="#fff"/>
<polygon points="115.5,118 113,118 107.4,119.5 107.4,119.5 113,121 115.5,121" fill="#fff"/>
<rect x="57" y="139" width="11" height="15" fill="#000"/>
<rect x="59" y="141" width="2" height="2" fill="#fff"/>
<rect x="62" y="140" width="1" height="13" fill="#fff"/>
<rect x="58" y="148" width="9" height="1" fill="#fff"/>
<polygon points="44,149.5 47.9,148 53.6,148 53.6,147 57,147 57,146 53.6,146 53.6,145 47.9,145 44,143.5" fill="#000"/>
<rect x="8" y="139" width="37" height="15" rx="3" fill="#000"/>
<rect x="10" y="141" width="33" height="11" rx="1" fill="#fff"/>
<polygon points="41,148 43.5,148 48.9,146.5 48.9,146.5 43.5,145 41,145" fill="#fff"/>
<rect x="57" y="158" width="11" height="15" fill="#000"/>
<rect x="58" y="159" width="9" height="1" fill="#fff"/>
<rect x="62" y="159" width="1" height="13" fill="#fff"/>
<rect x="58" y="163" width="9" height="1" fill="#fff"/>
<rect x="58" y="168" width="9" height="1" fill="#fff"/>
<rect x="59" y="161" width="2" height="1" fill="#fff"/>
<polygon points="44,168.5 47.9,167 53.6,167 53.6,166 57,166 57,165 53.6,165 53.6,164 47.9,164 44,162.5" fill="#000"/>
<rect x="9" y="158" width="36" height="15" rx="3" fill="#000"/>
<rect x="11" y="160" width="32" height="11" rx="1" fill="#fff"/>
<polygon points="41,167 43.5,167 48.9,165.5 48.9,165.5 43.5,164 41,164" fill="#fff"/>
<rect x="61" y="180" width="6" height="15" fill="#000"/>
<rect x="62" y="181" width="4" height="13" fill="#fff"/>
<polygon points="50.5,190.5 53.6,189 58.3,189 58.3,188 61,188 61,187 58.3,187 58.3,186 53.6,186 50.5,184.5" fill="#000"/>
<rect x="22" y="180" width="29" height="15" rx="3" fill="#000"/>
<rect x="24" y="182" width="25" height="11" rx="1" fill="#fff"/>
<polygon points="47.5,189 50,189 54.5,187.5 54.5,187.5 50,186 47.5,186" fill="#fff"/>
<rect x="60" y="240" width="15" height="6" fill="#000"/>
<rect x="65" y="241" width="1" height="4" fill="#fff"/>
<rect x="69" y="241" width="1" height="4" fill="#fff"/>
<rect x="72" y="242" width="2" height="2" fill="#fff"/>
<polygon points="46,245.5 50.2,244 56.4,244 56.4,243 60,243 60,242 56.4,242 56.4,241 50.2,241 46,239.5" fill="#000"/>
<rect x="11" y="235" width="36" height="15" rx="3" fill="#000"/>
<rect x="13" y="237" width="32" height="11" rx="1" fill="#fff"/>
<polygon points="43,244 45.5,244 51.3,242.5 51.3,242.5 45.5,241 43,241" fill="#fff"/>
<rect x="233" y="115" width="12" height="6" fill="#000"/>
<rect x="234" y="116" width="2" height="4" fill="#fff"/>
<rect x="238" y="116" width="2" height="4" fill="#fff"/>
<polygon points="258,114.5 254.1,116 248.4,116 248.4,117 245,117 245,118 248.4,118 248.4,119 254.1,119 258,120.5" fill="#000"/>
<rect x="258" y="110" width="36" height="15" rx="3" fill="#000"/>
<rect x="260" y="112" width="32" height="11" rx="1" fill="#fff"/>
<polygon points="261,116 258.5,116 253.1,117.5 253.1,117.5 258.5,119 261,119" fill="#fff"/>
<rect x="341" y="42" width="43" height="16" fill="#000"/>
<rect x="342" y="43" width="41" height="14" fill="#fff"/>
<rect x="351" y="45" width="29" height="9" fill="#000"/>
<rect x="356" y="45" width="1" height="9" fill="#fff"/>
<rect x="368" y="45" width="1" height="9" fill="#fff"/>
<rect x="374" y="45" width="1" height="9" fill="#fff"/>
<rect x="345" y="45" width="5" height="9" fill="#000"/>
<rect x="346" y="46" width="3" height="7" fill="#fff"/>
<rect x="342" y="43" width="4" height="4" fill="#000"/>
<rect x="343" y="44" width="2" height="2" fill="#fff"/>
<polygon points="359.5,29.5 361,33.2 361,38.8 362,38.8 362,42 363,42 363,38.8 364,38.8 364,33.2 365.5,29.5" fill="#000"/>
<rect x="348" y="15" width="31" height="16" rx="3" fill="#000"/>
<rect x="350" y="17" width="27" height="11" rx="1" fill="#fff"/>
<polygon points="361,26.5 361,29 362.5,33.8 362.5,34.8 364,29 364,26.5" fill="#fff"/>
<rect x="465" y="45" width="20" height="5" fill="#000"/>
<rect x="470" y="46" width="1" height="3" fill="#fff"/>
<rect x="474" y="46" width="1" height="3" fill="#fff"/>
<rect x="479" y="46" width="1" height="3" fill="#fff"/>
<polygon points="452,50.5 455.9,49 461.6,49 461.6,48 465,48 465,47 461.6,47 461.6,46 455.9,46 452,44.5" fill="#000"/>
<rect x="416" y="40" width="36" height="15" rx="3" fill="#000"/>
<rect x="418" y="42" width="32" height="11" rx="1" fill="#fff"/>
<polygon points="449,49 451.5,49 456.9,47.5 456.9,47.5 451.5,46 449,46" fill="#fff"/>
<rect x="487" y="31" width="91" height="10" fill="#000"/>
<rect x="488" y="32" width="1" height="8" fill="#fff"/>
<rect x="493" y="32" width="1" height="8" fill="#fff"/>
<rect x="497" y="32" width="1" height="8" fill="#fff"/>
<rect x="506" y="32" width="1" height="8" fill="#fff"/>
<rect x="511" y="32" width="1" height="8" fill="#fff"/>
<rect x="515" y="32" width="1" height="8" fill="#fff"/>
<rect x="520" y="32" width="1" height="8" fill="#fff"/>
<rect x="529" y="32" width="1" height="8" fill="#fff"/>
<rect x="534" y="32" width="1" height="8" fill="#fff"/>
<rect x="543" y="32" width="1" height="8" fill="#fff"/>
<rect x="548" y="32" width="1" height="8" fill="#fff"/>
<rect x="552" y="32" width="1" height="8" fill="#fff"/>
<rect x="557" y="32" width="1" height="8" fill="#fff"/>
<rect x="566" y="32" width="1" height="8" fill="#fff"/>
<rect x="571" y="32" width="1" height="8" fill="#fff"/>
<rect x="573" y="32" width="4" height="8" fill="#fff"/>
<rect x="574" y="34" width="2" height="6" fill="#000"/>
<polygon points="527,17.5 528.5,21.6 528.5,27.5 529.5,27.5 529.5,31 530.5,31 530.5,27.5 531.5,27.5 531.5,21.6 533,17.5" fill="#000"/>
<rect x="512" y="2" width="36" height="16" rx="4" fill="#000"/>
<rect x="514" y="4" width="32" height="12" rx="1" fill="#fff"/>
<polygon points="528.5,14.5 528.5,17 530,22.1 530,23.1 531.5,17 531.5,14.5" fill="#fff"/>
<rect x="522" y="61" width="1" height="83" fill="#000"/>
<path d="M522.5 61.5L528.5 58.5" fill="none" stroke="#000" stroke-width="1"/>
<path d="M522.5 143.5L529.5 147.5" fill="none" stroke="#000" stroke-width="1"/>
<rect x="526" y="61" width="48" height="41" fill="#000"/>
<rect x="528" y="63" width="2" height="4" fill="#fff"/>
<rect x="528" y="96" width="2" height="4" fill="#fff"/>
<rect x="533" y="63" width="2" height="4" fill="#fff"/>
<rect x="533" y="96" width="2" height="4" fill="#fff"/>
<rect x="537" y="63" width="2" height="4" fill="#fff"/>
<rect x="537" y="96" width="2" height="4" fill="#fff"/>
<rect x="542" y="63" width="2" height="4" fill="#fff"/>
<rect x="542" y="96" width="2" height="4" fill="#fff"/>
<rect x="547" y="63" width="2" height="4" fill="#fff"/>
<rect x="547" y="96" width="2" height="4" fill="#fff"/>
<rect x="551" y="63" width="2" height="4" fill="#fff"/>
<rect x="551" y="96" width="2" height="4" fill="#fff"/>
<rect x="556" y="63" width="2" height="4" fill="#fff"/>
<rect x="556" y="96" width="2" height="4" fill="#fff"/>
<rect x="561" y="63" width="2" height="4" fill="#fff"/>
<rect x="561" y="96" width="2" height="4" fill="#fff"/>
<rect x="565" y="63" width="2" height="4" fill="#fff"/>
<rect x="565" y="96" width="2" height="4" fill="#fff"/>
<rect x="570" y="63" width="2" height="4" fill="#fff"/>
<rect x="570" y="96" width="2" height="4" fill="#fff"/>
<rect x="530" y="69" width="17" height="4" fill="#fff"/>
<rect x="551" y="69" width="17" height="4" fill="#fff"/>
<rect x="530" y="90" width="17" height="4" fill="#fff"/>
<rect x="551" y="90" width="17" height="4" fill="#fff"/>
<rect x="572" y="70" width="2" height="3" fill="#fff"/>
<rect x="572" y="90" width="2" height="3" fill="#fff"/>
<rect x="528" y="103" width="42" height="40" fill="#000"/>
<rect x="568" y="110" width="2" height="4" fill="#fff"/>
<rect x="568" y="131" width="2" height="4" fill="#fff"/>
<rect x="530" y="141" width="1" height="1" fill="#fff"/>
<rect x="533" y="141" width="1" height="1" fill="#fff"/>
<rect x="536" y="141" width="1" height="1" fill="#fff"/>
<rect x="539" y="141" width="1" height="1" fill="#fff"/>
<rect x="542" y="141" width="1" height="1" fill="#fff"/>
<rect x="545" y="141" width="1" height="1" fill="#fff"/>
<rect x="548" y="141" width="1" height="1" fill="#fff"/>
<rect x="551" y="141" width="1" height="1" fill="#fff"/>
<rect x="554" y="141" width="1" height="1" fill="#fff"/>
<rect x="557" y="141" width="1" height="1" fill="#fff"/>
<rect x="560" y="141" width="1" height="1" fill="#fff"/>
<rect x="563" y="141" width="1" height="1" fill="#fff"/>
<rect x="566" y="141" width="1" height="1" fill="#fff"/>
<rect x="551" y="140" width="1" height="3" fill="#fff"/>
<rect x="526" y="73" width="48" height="16" rx="2" fill="#000"/>
<rect x="528" y="75" width="44" height="12" rx="1" fill="#fff"/>
<rect x="525" y="115" width="49" height="15" rx="4" fill="#000"/>
<rect x="527" y="117" width="45" height="11" rx="1" fill="#fff"/>
<path d="M518.5 98.5L521.5 101.5L518.5 104.5Z" fill="#fff" stroke="#000" stroke-width="1"/>
<rect x="478" y="94" width="41" height="15" rx="3" fill="#000"/>
<rect x="480" y="96" width="37" height="11" rx="1" fill="#fff"/>
<rect x="626" y="16" width="5" height="54" fill="#000"/>
<rect x="624" y="19" width="15" height="5" fill="#000"/>
<rect x="625" y="20" width="13" height="3" fill="#fff"/>
<rect x="626" y="19" width="5" height="5" fill="#000"/>
<rect x="624" y="62" width="15" height="5" fill="#000"/>
<rect x="625" y="63" width="13" height="3" fill="#fff"/>
<rect x="626" y="62" width="5" height="5" fill="#000"/>
<rect x="631" y="25" width="13" height="36" fill="#000"/>
<rect x="631" y="26" width="12" height="34" fill="#fff"/>
<rect x="603" y="25" width="28" height="36" fill="#000"/>
<rect x="607" y="36" width="34" height="15" rx="3" fill="#000"/>
<rect x="609" y="38" width="30" height="11" rx="1" fill="#fff"/>
<rect x="626" y="74" width="3" height="10" fill="#000"/>
<rect x="622" y="76" width="15" height="5" fill="#000"/>
<rect x="623" y="77" width="13" height="3" fill="#fff"/>
<rect x="626" y="76" width="3" height="5" fill="#000"/>
<rect x="630" y="76" width="2" height="5" fill="#000"/>
<rect x="631" y="83" width="11" height="73" fill="#000"/>
<rect x="631" y="84" width="10" height="71" fill="#fff"/>
<rect x="607" y="83" width="24" height="73" fill="#000"/>
<rect x="607" y="112" width="34" height="15" rx="3" fill="#000"/>
<rect x="609" y="114" width="30" height="11" rx="1" fill="#fff"/>
<rect x="629" y="84" width="1" height="77" fill="#fff"/>
<rect x="622" y="157" width="15" height="5" fill="#000"/>
<rect x="623" y="158" width="13" height="3" fill="#fff"/>
<rect x="626" y="157" width="3" height="5" fill="#000"/>
<rect x="630" y="157" width="2" height="5" fill="#000"/>
<rect x="626" y="156" width="3" height="7" fill="#000"/>
<rect x="626" y="169" width="5" height="8" fill="#000"/>
<rect x="624" y="171" width="15" height="5" fill="#000"/>
<rect x="625" y="172" width="13" height="3" fill="#fff"/>
<rect x="626" y="171" width="5" height="5" fill="#000"/>
<rect x="631" y="177" width="13" height="36" fill="#000"/>
<rect x="631" y="178" width="12" height="34" fill="#fff"/>
<rect x="603" y="177" width="28" height="36" fill="#000"/>
<rect x="607" y="188" width="34" height="15" rx="3" fill="#000"/>
<rect x="609" y="190" width="30" height="11" rx="1" fill="#fff"/>
<rect x="626" y="213" width="5" height="21" fill="#000"/>
<rect x="624" y="214" width="15" height="5" fill="#000"/>
<rect x="625" y="215" width="13" height="3" fill="#fff"/>
<rect x="626" y="214" width="5" height="5" fill="#000"/>
<rect x="624" y="228" width="15" height="5" fill="#000"/>
<rect x="625" y="229" width="13" height="3" fill="#fff"/>
<rect x="625" y="221" width="6" height="13" fill="#000"/>
<rect x="624" y="227" width="7" height="7" fill="#000"/>
<rect x="631" y="234" width="13" height="36" fill="#000"/>
<rect x="631" y="235" width="12" height="34" fill="#fff"/>
<rect x="603" y="234" width="28" height="36" fill="#000"/>
<rect x="607" y="245" width="34" height="16" rx="3" fill="#000"/>
<rect x="609" y="247" width="30" height="12" rx="1" fill="#fff"/>
<rect x="626" y="270" width="5" height="10" fill="#000"/>
<rect x="624" y="271" width="15" height="5" fill="#000"/>
<rect x="625" y="272" width="13" height="3" fill="#fff"/>
<rect x="624" y="271" width="7" height="9" fill="#000"/>
<rect x="599" y="286" width="32" height="33" fill="#000"/>
<rect x="600" y="287" width="25" height="31" fill="#fff"/>
<rect x="625" y="286" width="7" height="33" fill="#000"/>
<rect x="602" y="295" width="26" height="15" rx="3" fill="#000"/>
<rect x="604" y="297" width="22" height="11" rx="1" fill="#fff"/>
<path d="M607 330H626V326H628V324H630V365H628V363H626V360H607Z" fill="#000"/>
<rect x="605" y="335" width="2" height="20" fill="#000"/>
<rect x="601" y="337" width="5" height="6" fill="#000"/>
<rect x="602" y="338" width="3" height="4" fill="#fff"/>
<rect x="601" y="346" width="5" height="7" fill="#000"/>
<rect x="602" y="347" width="3" height="5" fill="#fff"/>
<rect x="597" y="377" width="34" height="25" fill="#000"/>
<rect x="598" y="378" width="32" height="23" fill="#fff"/>
<rect x="618.5" y="375.5" width="13" height="28" rx="3" fill="#fff" stroke="#000"/>
<rect x="630" y="370" width="2" height="41" fill="#000"/>
<rect x="600" y="381" width="28" height="16" rx="3" fill="#000"/>
<rect x="602" y="383" width="24" height="11" rx="1" fill="#fff"/>
<rect x="574" y="269" width="10" height="76" fill="#000"/>
<rect x="579" y="270" width="1" height="74" fill="#fff"/>
<rect x="575" y="275" width="8" height="1" fill="#fff"/>
<rect x="575" y="279" width="8" height="1" fill="#fff"/>
<rect x="575" y="284" width="8" height="1" fill="#fff"/>
<rect x="575" y="288" width="8" height="1" fill="#fff"/>
<rect x="575" y="293" width="8" height="1" fill="#fff"/>
<rect x="575" y="297" width="8" height="1" fill="#fff"/>
<rect x="575" y="302" width="8" height="1" fill="#fff"/>
<rect x="575" y="307" width="8" height="1" fill="#fff"/>
<rect x="575" y="311" width="8" height="1" fill="#fff"/>
<rect x="575" y="316" width="8" height="1" fill="#fff"/>
<rect x="575" y="325" width="8" height="1" fill="#fff"/>
<rect x="575" y="334" width="8" height="1" fill="#fff"/>
<rect x="575" y="338" width="8" height="1" fill="#fff"/>
<rect x="575" y="343" width="8" height="1" fill="#fff"/>
<rect x="576" y="271" width="6" height="1" fill="#fff"/>
<rect x="578" y="272" width="2" height="2" fill="#fff"/>
<polygon points="561,306 564.9,305 570.6,305 570.6,304 574,304 574,303 570.6,303 570.6,302 564.9,302 561,301" fill="#000"/>
<rect x="536" y="298" width="26" height="11" fill="#fff"/>
<rect x="477" y="323" width="15" height="6" fill="#000"/>
<rect x="482" y="324" width="1" height="4" fill="#fff"/>
<rect x="486" y="324" width="1" height="4" fill="#fff"/>
<rect x="489" y="325" width="2" height="2" fill="#fff"/>
<polygon points="480.5,309 482,313.2 482,319.4 483,319.4 483,323 484,323 484,319.4 485,319.4 485,313.2 486.5,309" fill="#000"/>
<rect x="470" y="295" width="27" height="15" rx="3" fill="#000"/>
<rect x="472" y="297" width="23" height="11" rx="1" fill="#fff"/>
<polygon points="482,306 482,308.5 483.5,313.8 483.5,314.8 485,308.5 485,306" fill="#fff"/>
<polygon points="558,304.5 560.5,304.5 565.9,303.5 565.9,303.5 560.5,302.5 558,302.5" fill="#fff"/>
<rect x="335" y="271" width="11" height="95" fill="#000"/>
<rect x="336" y="272" width="1" height="93" fill="#fff"/>
<rect x="340" y="272" width="1" height="93" fill="#fff"/>
<rect x="336" y="276" width="9" height="1" fill="#fff"/>
<rect x="336" y="285" width="9" height="1" fill="#fff"/>
<rect x="336" y="290" width="9" height="1" fill="#fff"/>
<rect x="336" y="295" width="9" height="1" fill="#fff"/>
<rect x="336" y="299" width="9" height="1" fill="#fff"/>
<rect x="336" y="304" width="9" height="1" fill="#fff"/>
<rect x="336" y="309" width="9" height="1" fill="#fff"/>
<rect x="336" y="313" width="9" height="1" fill="#fff"/>
<rect x="336" y="318" width="9" height="1" fill="#fff"/>
<rect x="336" y="323" width="9" height="1" fill="#fff"/>
<rect x="336" y="327" width="9" height="1" fill="#fff"/>
<rect x="336" y="332" width="9" height="1" fill="#fff"/>
<rect x="336" y="337" width="9" height="1" fill="#fff"/>
<rect x="336" y="346" width="9" height="1" fill="#fff"/>
<rect x="336" y="351" width="9" height="1" fill="#fff"/>
<rect x="336" y="355" width="9" height="1" fill="#fff"/>
<rect x="336" y="360" width="9" height="1" fill="#fff"/>
<rect x="341" y="361" width="4" height="4" fill="#000"/>
<rect x="342" y="362" width="2" height="2" fill="#fff"/>
<rect x="353" y="271" width="10" height="95" fill="#000"/>
<rect x="354" y="276" width="8" height="1" fill="#fff"/>
<rect x="354" y="285" width="8" height="1" fill="#fff"/>
<rect x="354" y="290" width="8" height="1" fill="#fff"/>
<rect x="354" y="295" width="8" height="1" fill="#fff"/>
<rect x="354" y="299" width="8" height="1" fill="#fff"/>
<rect x="354" y="304" width="8" height="1" fill="#fff"/>
<rect x="354" y="309" width="8" height="1" fill="#fff"/>
<rect x="354" y="313" width="8" height="1" fill="#fff"/>
<rect x="354" y="318" width="8" height="1" fill="#fff"/>
<rect x="354" y="323" width="8" height="1" fill="#fff"/>
<rect x="354" y="327" width="8" height="1" fill="#fff"/>
<rect x="354" y="332" width="8" height="1" fill="#fff"/>
<rect x="354" y="337" width="8" height="1" fill="#fff"/>
<rect x="354" y="346" width="8" height="1" fill="#fff"/>
<rect x="354" y="351" width="8" height="1" fill="#fff"/>
<rect x="354" y="355" width="8" height="1" fill="#fff"/>
<rect x="354" y="360" width="8" height="1" fill="#fff"/>
<rect x="359" y="362" width="2" height="2" fill="#fff"/>
<rect x="368" y="285" width="11" height="81" fill="#000"/>
<rect x="369" y="286" width="1" height="79" fill="#fff"/>
<rect x="373" y="286" width="1" height="79" fill="#fff"/>
<rect x="369" y="290" width="9" height="1" fill="#fff"/>
<rect x="369" y="295" width="9" height="1" fill="#fff"/>
<rect x="369" y="299" width="9" height="1" fill="#fff"/>
<rect x="369" y="304" width="9" height="1" fill="#fff"/>
<rect x="369" y="309" width="9" height="1" fill="#fff"/>
<rect x="369" y="313" width="9" height="1" fill="#fff"/>
<rect x="369" y="318" width="9" height="1" fill="#fff"/>
<rect x="369" y="323" width="9" height="1" fill="#fff"/>
<rect x="369" y="327" width="9" height="1" fill="#fff"/>
<rect x="369" y="332" width="9" height="1" fill="#fff"/>
<rect x="369" y="337" width="9" height="1" fill="#fff"/>
<rect x="369" y="346" width="9" height="1" fill="#fff"/>
<rect x="369" y="355" width="9" height="1" fill="#fff"/>
<rect x="369" y="360" width="9" height="1" fill="#fff"/>
<rect x="371" y="286" width="1" height="3" fill="#fff"/>
<rect x="356" y="257" width="4" height="12" fill="#000"/>
<rect x="357" y="268" width="2" height="4" fill="#000"/>
<rect x="340" y="243" width="35" height="15" rx="3" fill="#000"/>
<rect x="342" y="245" width="31" height="11" rx="1" fill="#fff"/>
<path d="M357 258L357.5 262L358 258Z" fill="#fff"/>
<polygon points="323,343.5 326.6,342 331.9,342 331.9,341 335,341 335,340 331.9,340 331.9,339 326.6,339 323,337.5" fill="#000"/>
<rect x="287" y="333" width="36" height="15" rx="3" fill="#000"/>
<rect x="289" y="335" width="32" height="11" rx="1" fill="#fff"/>
<polygon points="320,342 322.5,342 327.6,340.5 327.6,340.5 322.5,339 320,339" fill="#fff"/>
<polygon points="392,318.5 388.1,320 382.4,320 382.4,321 379,321 379,322 382.4,322 382.4,323 388.1,323 392,324.5" fill="#000"/>
<rect x="392" y="314" width="38" height="16" rx="3" fill="#000"/>
<rect x="394" y="316" width="34" height="12" rx="1" fill="#fff"/>
<polygon points="395,320 392.5,320 387.1,321.5 387.1,321.5 392.5,323 395,323" fill="#fff"/>
<rect x="274" y="290" width="16" height="5" fill="#000"/>
<rect x="275" y="291" width="1" height="3" fill="#fff"/>
<rect x="279" y="291" width="1" height="3" fill="#fff"/>
<rect x="284" y="291" width="1" height="3" fill="#fff"/>
<rect x="286" y="292" width="2" height="1" fill="#fff"/>
<rect x="274" y="298" width="16" height="5" fill="#000"/>
<rect x="275" y="299" width="1" height="3" fill="#fff"/>
<rect x="279" y="299" width="1" height="3" fill="#fff"/>
<rect x="284" y="299" width="1" height="3" fill="#fff"/>
<rect x="286" y="300" width="2" height="1" fill="#fff"/>
<polygon points="264,295.5 267,294 271.4,294 271.4,293 274,293 274,292 271.4,292 271.4,291 267,291 264,289.5" fill="#000"/>
<rect x="234" y="285" width="30" height="15" rx="3" fill="#000"/>
<rect x="236" y="287" width="26" height="11" rx="1" fill="#fff"/>
<polygon points="261,294 263.5,294 267.8,292.5 267.8,292.5 263.5,291 261,291" fill="#fff"/>
<line x1="268" y1="306" x2="275" y2="301" stroke="#000" stroke-width="2.4"/>
<rect x="242" y="305" width="28" height="15" rx="3" fill="#000"/>
<rect x="244" y="307" width="24" height="11" rx="1" fill="#fff"/>
<rect x="306" y="320" width="16" height="6" fill="#000"/>
<rect x="311" y="321" width="1" height="4" fill="#fff"/>
<rect x="316" y="321" width="1" height="4" fill="#fff"/>
<rect x="319" y="322" width="1" height="2" fill="#fff"/>
<polygon points="311.5,307 313,310.9 313,316.6 314,316.6 314,320 315,320 315,316.6 316,316.6 316,310.9 317.5,307" fill="#000"/>
<rect x="301" y="292" width="28" height="16" rx="4" fill="#000"/>
<rect x="303" y="294" width="24" height="11" rx="1" fill="#fff"/>
<polygon points="313,304 313,306.5 314.5,311.4 314.5,312.4 316,306.5 316,304" fill="#fff"/>
<circle cx="273.5" cy="356.5" r="18" fill="#fff" stroke="#000"/>
<rect x="242" y="350" width="14" height="13" fill="#000"/>
<path d="M242 354H279L284 356V357L279 359H242Z" fill="#000"/>
<path d="M243 355H279L283 356.5L279 358H243Z" fill="#fff"/>
<rect x="275" y="355" width="1" height="3" fill="#000"/>
<rect x="154" y="348" width="15" height="6" fill="#000"/>
<rect x="158" y="349" width="1" height="4" fill="#fff"/>
<rect x="163" y="349" width="1" height="4" fill="#fff"/>
<rect x="165" y="350" width="2" height="2" fill="#fff"/>
<polygon points="142,353.5 145.6,352 150.9,352 150.9,351 154,351 154,350 150.9,350 150.9,349 145.6,349 142,347.5" fill="#000"/>
<rect x="105" y="344" width="37" height="15" rx="3" fill="#000"/>
<rect x="107" y="346" width="33" height="11" rx="1" fill="#fff"/>
<polygon points="139,352 141.5,352 146.6,350.5 146.6,350.5 141.5,349 139,349" fill="#fff"/>
<rect x="258" y="390" width="16" height="6" fill="#000"/>
<rect x="262" y="391" width="1" height="4" fill="#fff"/>
<rect x="266" y="391" width="1" height="4" fill="#fff"/>
<rect x="270" y="391" width="1" height="4" fill="#fff"/>
<polygon points="246.5,395.5 249.9,394 255,394 255,393 258,393 258,392 255,392 255,391 249.9,391 246.5,389.5" fill="#000"/>
<rect x="210" y="385" width="37" height="15" rx="3" fill="#000"/>
<rect x="212" y="387" width="33" height="11" rx="1" fill="#fff"/>
<polygon points="243.5,394 246,394 250.9,392.5 250.9,392.5 246,391 243.5,391" fill="#fff"/>
<rect x="155" y="400" width="15" height="7" fill="#000"/>
<rect x="160" y="401" width="9" height="1" fill="#fff"/>
<rect x="160" y="401" width="1" height="3" fill="#fff"/>
<rect x="156" y="405" width="13" height="1" fill="#fff"/>
<rect x="166" y="403" width="2" height="1" fill="#fff"/>
<rect x="175" y="400" width="20" height="6" fill="#000"/>
<rect x="180" y="401" width="1" height="4" fill="#fff"/>
<rect x="185" y="401" width="1" height="4" fill="#fff"/>
<rect x="188" y="401" width="1" height="4" fill="#fff"/>
<rect x="191" y="402" width="2" height="2" fill="#fff"/>
<polygon points="142,406.5 145.9,405 151.6,405 151.6,404 155,404 155,403 151.6,403 151.6,402 145.9,402 142,400.5" fill="#000"/>
<rect x="106" y="396" width="36" height="16" rx="3" fill="#000"/>
<rect x="108" y="398" width="32" height="11" rx="1" fill="#fff"/>
<polygon points="139,405 141.5,405 146.9,403.5 146.9,403.5 141.5,402 139,402" fill="#fff"/>
<line x1="178" y1="413.5" x2="184.5" y2="405.5" stroke="#000" stroke-width="3"/>
<rect x="146" y="412" width="34" height="15" rx="3" fill="#000"/>
<rect x="148" y="414" width="30" height="11" rx="1" fill="#fff"/>
<rect x="296" y="389" width="90" height="19" fill="#000"/>
<rect x="297" y="390" width="88" height="17" fill="#fff"/>
<rect x="299" y="391" width="4" height="2" fill="#000"/>
<rect x="298" y="393" width="6" height="1" fill="#000"/>
<rect x="299" y="394" width="4" height="1" fill="#000"/>
<rect x="298" y="397" width="6" height="2" fill="#000"/>
<rect x="306" y="391" width="4" height="2" fill="#000"/>
<rect x="305" y="393" width="6" height="1" fill="#000"/>
<rect x="306" y="394" width="4" height="1" fill="#000"/>
<rect x="305" y="397" width="6" height="2" fill="#000"/>
<rect x="313" y="391" width="4" height="2" fill="#000"/>
<rect x="312" y="393" width="6" height="1" fill="#000"/>
<rect x="313" y="394" width="4" height="1" fill="#000"/>
<rect x="312" y="397" width="6" height="2" fill="#000"/>
<rect x="321" y="391" width="4" height="2" fill="#000"/>
<rect x="320" y="393" width="6" height="1" fill="#000"/>
<rect x="321" y="394" width="4" height="1" fill="#000"/>
<rect x="320" y="397" width="6" height="2" fill="#000"/>
<rect x="328" y="391" width="4" height="2" fill="#000"/>
<rect x="327" y="393" width="6" height="1" fill="#000"/>
<rect x="328" y="394" width="4" height="1" fill="#000"/>
<rect x="327" y="397" width="6" height="2" fill="#000"/>
<rect x="336" y="391" width="4" height="2" fill="#000"/>
<rect x="335" y="393" width="6" height="1" fill="#000"/>
<rect x="336" y="394" width="4" height="1" fill="#000"/>
<rect x="335" y="397" width="6" height="2" fill="#000"/>
<rect x="343" y="391" width="4" height="2" fill="#000"/>
<rect x="342" y="393" width="6" height="1" fill="#000"/>
<rect x="343" y="394" width="4" height="1" fill="#000"/>
<rect x="342" y="397" width="6" height="2" fill="#000"/>
<rect x="350" y="391" width="4" height="2" fill="#000"/>
<rect x="349" y="393" width="6" height="1" fill="#000"/>
<rect x="350" y="394" width="4" height="1" fill="#000"/>
<rect x="349" y="397" width="6" height="2" fill="#000"/>
<rect x="358" y="391" width="4" height="2" fill="#000"/>
<rect x="357" y="393" width="6" height="1" fill="#000"/>
<rect x="358" y="394" width="4" height="1" fill="#000"/>
<rect x="357" y="397" width="6" height="2" fill="#000"/>
<rect x="365" y="391" width="4" height="2" fill="#000"/>
<rect x="364" y="393" width="6" height="1" fill="#000"/>
<rect x="365" y="394" width="4" height="1" fill="#000"/>
<rect x="364" y="397" width="6" height="2" fill="#000"/>
<rect x="373" y="391" width="4" height="2" fill="#000"/>
<rect x="372" y="393" width="6" height="1" fill="#000"/>
<rect x="373" y="394" width="4" height="1" fill="#000"/>
<rect x="372" y="397" width="6" height="2" fill="#000"/>
<rect x="380" y="391" width="4" height="2" fill="#000"/>
<rect x="379" y="393" width="6" height="1" fill="#000"/>
<rect x="380" y="394" width="4" height="1" fill="#000"/>
<rect x="379" y="397" width="6" height="2" fill="#000"/>
<rect x="301" y="400" width="6" height="6" fill="#000"/>
<rect x="302" y="401" width="4" height="4" fill="#fff"/>
<rect x="309" y="400" width="6" height="6" fill="#000"/>
<rect x="310" y="401" width="4" height="4" fill="#fff"/>
<rect x="316" y="400" width="6" height="6" fill="#000"/>
<rect x="317" y="401" width="4" height="4" fill="#fff"/>
<rect x="323" y="400" width="6" height="6" fill="#000"/>
<rect x="324" y="401" width="4" height="4" fill="#fff"/>
<rect x="331" y="400" width="6" height="6" fill="#000"/>
<rect x="332" y="401" width="4" height="4" fill="#fff"/>
<rect x="338" y="400" width="6" height="6" fill="#000"/>
<rect x="339" y="401" width="4" height="4" fill="#fff"/>
<rect x="346" y="400" width="6" height="6" fill="#000"/>
<rect x="347" y="401" width="4" height="4" fill="#fff"/>
<rect x="353" y="400" width="6" height="6" fill="#000"/>
<rect x="354" y="401" width="4" height="4" fill="#fff"/>
<rect x="361" y="400" width="6" height="6" fill="#000"/>
<rect x="362" y="401" width="4" height="4" fill="#fff"/>
<rect x="368" y="400" width="6" height="6" fill="#000"/>
<rect x="369" y="401" width="4" height="4" fill="#fff"/>
<rect x="375" y="400" width="6" height="6" fill="#000"/>
<rect x="376" y="401" width="4" height="4" fill="#fff"/>
<rect x="296" y="402" width="1" height="3" fill="#fff"/>
<rect x="297" y="403" width="1" height="1" fill="#000"/>
<rect x="385" y="400" width="1" height="3" fill="#fff"/>
<rect x="401" y="384" width="21" height="6" fill="#000"/>
<rect x="404" y="385" width="1" height="4" fill="#fff"/>
<rect x="407" y="385" width="1" height="4" fill="#fff"/>
<rect x="411" y="385" width="1" height="4" fill="#fff"/>
<rect x="416" y="385" width="1" height="4" fill="#fff"/>
<rect x="420" y="385" width="1" height="4" fill="#fff"/>
<polygon points="409,371.5 410.5,375.2 410.5,380.8 411.5,380.8 411.5,384 412.5,384 412.5,380.8 413.5,380.8 413.5,375.2 415,371.5" fill="#000"/>
<rect x="395" y="357" width="35" height="15" rx="1" fill="#000"/>
<rect x="397" y="359" width="31" height="11" rx="1" fill="#fff"/>
<polygon points="410.5,368.5 410.5,371 412,375.8 412,376.8 413.5,371 413.5,368.5" fill="#fff"/>
<rect x="438" y="370" width="11" height="20" fill="#000"/>
<rect x="440" y="371" width="1" height="18" fill="#fff"/>
<rect x="444" y="371" width="1" height="18" fill="#fff"/>
<rect x="439" y="376" width="9" height="1" fill="#fff"/>
<rect x="439" y="381" width="9" height="1" fill="#fff"/>
<rect x="439" y="385" width="9" height="1" fill="#fff"/>
<rect x="442" y="372" width="1" height="3" fill="#fff"/>
<polygon points="461,375.5 457.4,377 452.1,377 452.1,378 449,378 449,379 452.1,379 452.1,380 457.4,380 461,381.5" fill="#000"/>
<rect x="461" y="371" width="29" height="16" rx="4" fill="#000"/>
<rect x="463" y="373" width="25" height="11" rx="1" fill="#fff"/>
<polygon points="464,377 461.5,377 456.4,378.5 456.4,378.5 461.5,380 464,380" fill="#fff"/>
<rect x="393" y="396" width="36" height="13" fill="#000"/>
<rect x="395" y="398" width="32" height="9" fill="#fff"/>
<rect x="397" y="399" width="6" height="6" fill="#000"/>
<rect x="405" y="399" width="6" height="6" fill="#000"/>
<rect x="412" y="399" width="6" height="6" fill="#000"/>
<rect x="420" y="399" width="6" height="6" fill="#000"/>
<polygon points="440,399.5 436.7,401 431.9,401 431.9,402 429,402 429,403 431.9,403 431.9,404 436.7,404 440,405.5" fill="#000"/>
<rect x="440" y="395" width="29" height="15" rx="3" fill="#000"/>
<rect x="442" y="397" width="25" height="11" rx="1" fill="#fff"/>
<polygon points="443,401 440.5,401 435.8,402.5 435.8,402.5 440.5,404 443,404" fill="#fff"/>
<g transform="scale(1,1.1)" filter="url(#t)">
<text x="62.5 69.5" y="25.45">11</text>
<text x="163.5 171.5 178.5 187.5 195.5 199.5" y="40.91">BANK 1</text>
<text x="163.5 171.5 178.5 187.5 195.5 199.5" y="65.45">BANK 0</text>
<text x="537.5 544.5 549.5 559.5" y="161.82">BIOS</text>
<text x="445.5 453.5 459.5" y="208.18">SL1</text>
<text x="111.5 121.5 132.5" y="124.55" fill="#fff">AMP</text>
<text x="148.5 155.5 162.5" y="180.91">CPU</text>
<text x="144.5 151.5 158.5 166.5 173.5 177.5" y="272.73">BANK 0</text>
<text x="147.5 154.5 161.5 168.5 175.5" y="310.91">CACHE</text>
<text x="231.5 238.5 245.5" y="220.91">TAG</text>
<text x="10.5 19.5 28.5 36.5" y="36.36">CN19</text>
<text x="5.5 13.5 22.5 29.5" y="90.91">CN30</text>
<text x="26.5 33.5 41.5 49.5" y="110.91">JP11</text>
<text x="116.5 122.5 131.5 138.5" y="111.82">JP44</text>
<text x="10.5 16.5 23.5 27.5 33.5" y="136.36">JP 48</text>
<text x="12.5 19.5 27.5 35.5" y="153.64">JP50</text>
<text x="24.5 31.5 39.5" y="173.64">JP7</text>
<text x="13.5 19.5 28.5 35.5" y="223.64">JP43</text>
<text x="261.5 270.5 278.5 286.5" y="110.91">CN18</text>
<text x="350.5 358.5 370.5" y="24.55">SW2</text>
<text x="418.5 426.5 435.5 441.5" y="46.36">CN31</text>
<text x="514.5 523.5 532.5 539.5" y="11.82">CN23</text>
<text x="562.5 568.5 574.5 581.5 587.5" y="26.00" font-size="9" transform="scale(1,0.9091)">35879</text>
<text x="530.5 537.5 544.5 552.5 559.5 562.5" y="77.27">BANK 1</text>
<text x="529.5 537.5 544.5 552.5 559.5 562.5" y="115.45">BANK 0</text>
<text x="481.5 488.5 492.5 499.5 506.5" y="94.55">VIDEO</text>
<text x="609.5 617.5 625.5 632.5" y="42.73">CN21</text>
<text x="609.5 617.5 625.5 632.5" y="111.82">CN17</text>
<text x="609.5 617.5 625.5 632.5" y="180.91">CN14</text>
<text x="609.5 617.5 625.5 632.5" y="232.73">CN13</text>
<text x="604.5 612.5 620.5" y="278.18">CN8</text>
<text x="603.5 611.5 620.5" y="357.27">CN5</text>
<text x="537.5 546.5 555.5" y="279.09">CN9</text>
<text x="472.5 479.5 485.5 487.5" y="278.18">JP 1</text>
<text x="343.5 351.5 360.5 367.5" y="230.91">CN11</text>
<text x="289.5 298.5 307.5 314.5" y="312.73">CN12</text>
<text x="395.5 404.5 413.5 420.5" y="295.45">CN10</text>
<text x="237.5 242.5 249.5 252.5" y="269.09">JP 4</text>
<text x="245.5 251.5 260.5" y="287.27">JP3</text>
<text x="304.5 310.5 318.5" y="276.36">JP2</text>
<text x="108.5 114.5 121.5 125.5 131.5" y="321.82">JP 42</text>
<text x="212.5 217.5 224.5 227.5 234.5" y="360.00">JP 15</text>
<text x="109.5 115.5 124.5 131.5" y="370.00">JP16</text>
<text x="149.5 156.5 165.5 172.5" y="384.55">JP30</text>
<text x="397.5 405.5 414.5 420.5" y="334.55">CN22</text>
<text x="464.5 472.5 481.5" y="347.27">CN6</text>
<text x="443.5 451.5 459.5" y="369.09">CN2</text>
</g>
<path fill="#fff" d="M63 27h2v1h-2zM66 27h1v1h-1zM70 27h2v1h-2zM73 27h1v1h-1zM200 44h2v1h-2zM203 44h1v1h-1zM460 228h2v1h-2zM463 228h1v1h-1zM29 39h2v1h-2zM32 39h1v1h-1zM42 121h2v1h-2zM45 121h1v1h-1zM50 121h2v1h-2zM53 121h1v1h-1zM279 121h2v1h-2zM282 121h1v1h-1zM442 50h2v1h-2zM445 50h1v1h-1zM563 84h2v1h-2zM566 84h1v1h-1zM633 46h2v1h-2zM636 46h1v1h-1zM626 122h2v1h-2zM629 122h1v1h-1zM626 198h2v1h-2zM629 198h1v1h-1zM626 255h2v1h-2zM629 255h1v1h-1zM488 305h2v1h-2zM491 305h1v1h-1zM361 253h2v1h-2zM364 253h1v1h-1zM368 253h2v1h-2zM371 253h1v1h-1zM308 343h2v1h-2zM311 343h1v1h-1zM414 324h2v1h-2zM417 324h1v1h-1zM228 395h2v1h-2zM231 395h1v1h-1zM125 406h2v1h-2zM128 406h1v1h-1z"/>
</svg>
</body></html>
